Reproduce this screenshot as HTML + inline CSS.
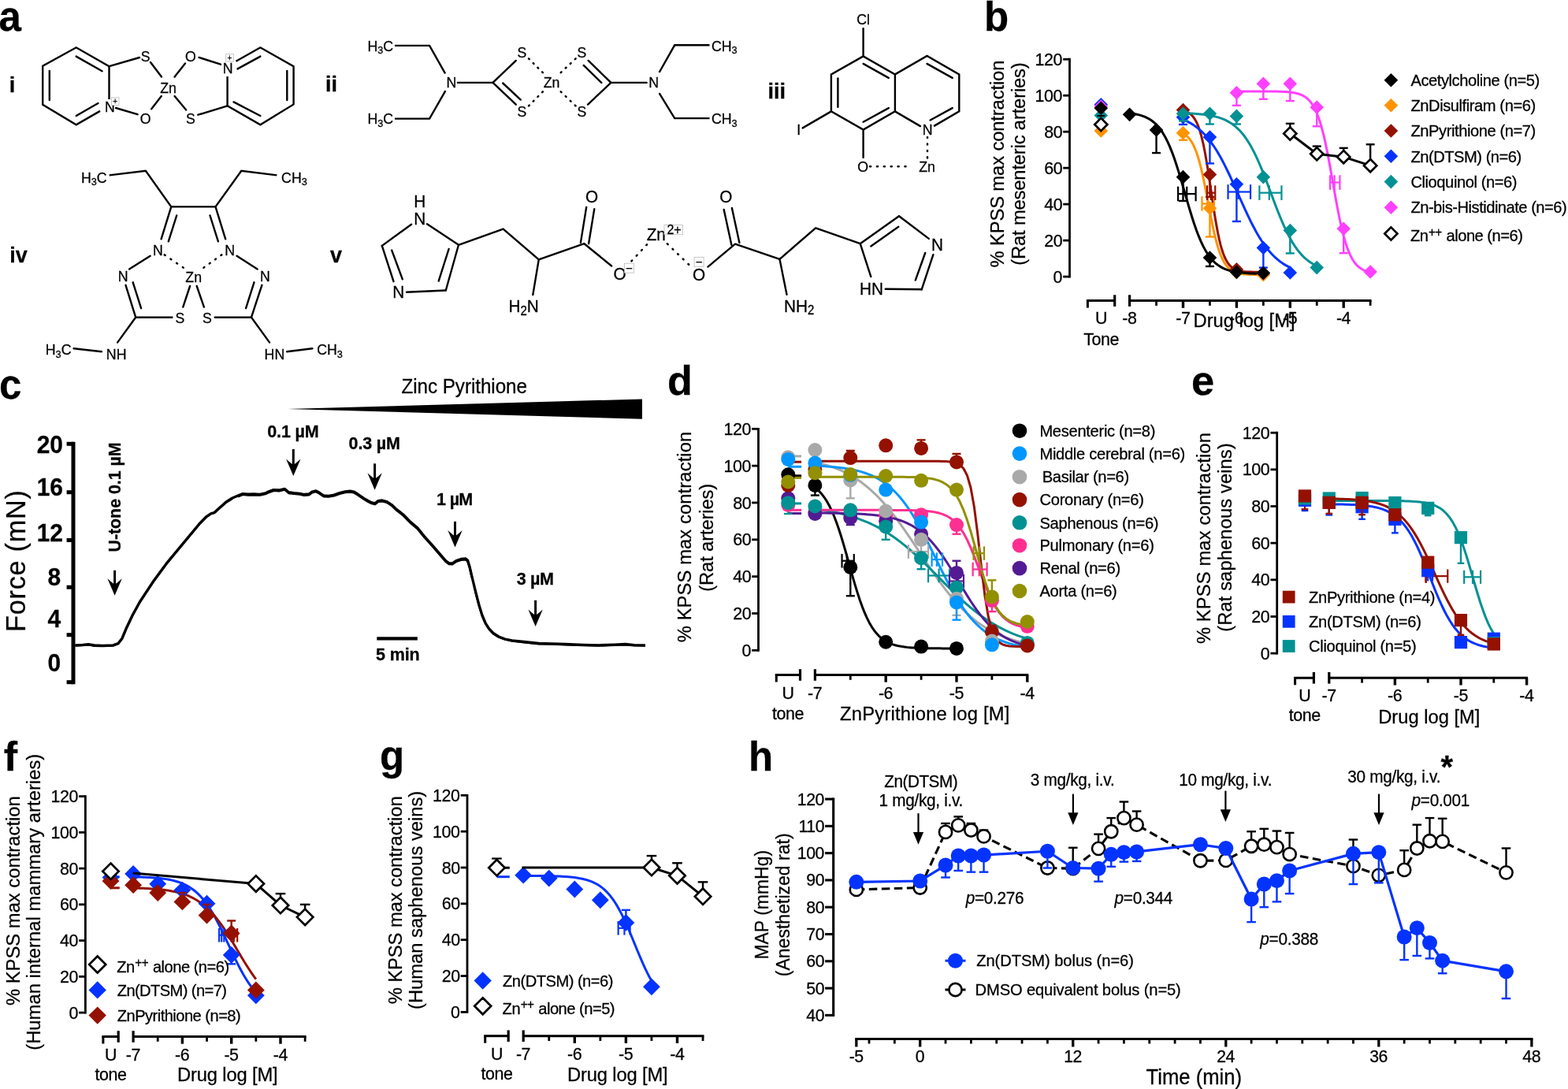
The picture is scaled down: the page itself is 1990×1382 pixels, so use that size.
<!DOCTYPE html>
<html lang="en"><head><meta charset="utf-8"><title>Figure</title>
<style>html,body{margin:0;padding:0;background:#fff}svg{display:block}text{font-family:'Liberation Sans', sans-serif;fill:#000;stroke:#000;stroke-width:0.28px}</style>
</head><body>
<svg width="1990" height="1382" viewBox="0 0 1990 1382">
<rect width="1990" height="1382" fill="#fff"/>
<g id="panel-a">
<text transform="translate(-1.5 39)" x="0" y="0" font-size="51" font-weight="bold">a</text>
<text transform="translate(15.5 116.5)" x="-3.75" y="0" font-size="27" font-weight="bold" fill="#333" stroke="none">i</text>
<path d="M138.5 126 L138.5 84.2 L96.7 60.3 L54.2 83.7 L54.2 132.9 L96.7 158.3 L127 140.9" fill="none" stroke="#000" stroke-width="2.4" stroke-linejoin="miter"/>
<line x1="62.8" y1="90" x2="62.8" y2="127" stroke="#000" stroke-width="2.4" stroke-linecap="round"/>
<line x1="96.7" y1="71.6" x2="129.6" y2="90.2" stroke="#000" stroke-width="2.4" stroke-linecap="round"/>
<line x1="96.7" y1="147" x2="124.5" y2="131" stroke="#000" stroke-width="2.4" stroke-linecap="round"/>
<text transform="translate(139.4 142.07) scale(0.96 1)" x="-6.63" y="0" font-size="18.51">N</text>
<rect x="141.45" y="123.85" width="9.5" height="9.5" fill="#fff" stroke="#bbb" stroke-width="0.8"/>
<text transform="translate(146.2 132.48) scale(0.96 1)" x="-3.1" y="0" font-size="10.4">+</text>
<line x1="138.5" y1="84.2" x2="177" y2="73" stroke="#000" stroke-width="2.4" stroke-linecap="round"/>
<text transform="translate(184.7 77.97) scale(0.96 1)" x="-6.13" y="0" font-size="18.51">S</text>
<line x1="191" y1="79" x2="205" y2="97.5" stroke="#000" stroke-width="2.4" stroke-linecap="round"/>
<text transform="translate(213.6 117.67) scale(0.96 1)" x="-10.76" y="0" font-size="18.51">Zn</text>
<text transform="translate(242 77.97) scale(0.96 1)" x="-7.25" y="0" font-size="18.51">O</text>
<line x1="235" y1="80.4" x2="221.6" y2="97.5" stroke="#000" stroke-width="2.4" stroke-linecap="round"/>
<line x1="252.5" y1="72.9" x2="280" y2="81.7" stroke="#000" stroke-width="2.4" stroke-linecap="round"/>
<text transform="translate(289 93.07) scale(0.96 1)" x="-6.63" y="0" font-size="18.51">N</text>
<rect x="286.75" y="68.65" width="9.5" height="9.5" fill="#fff" stroke="#bbb" stroke-width="0.8"/>
<text transform="translate(291.5 77.28) scale(0.96 1)" x="-3.1" y="0" font-size="10.4">+</text>
<path d="M288.6 97 L288.6 134.4 L330.4 158.3 L372.6 132.4 L372.6 84.2 L330.4 60.3 L299.5 77.8" fill="none" stroke="#000" stroke-width="2.4" stroke-linejoin="miter"/>
<line x1="301.5" y1="87.4" x2="330.4" y2="71.6" stroke="#000" stroke-width="2.4" stroke-linecap="round"/>
<line x1="364.3" y1="90" x2="364.3" y2="127" stroke="#000" stroke-width="2.4" stroke-linecap="round"/>
<line x1="296.5" y1="129.4" x2="330.4" y2="147" stroke="#000" stroke-width="2.4" stroke-linecap="round"/>
<line x1="288.6" y1="134.4" x2="251.3" y2="145.7" stroke="#000" stroke-width="2.4" stroke-linecap="round"/>
<text transform="translate(242 157.17) scale(0.96 1)" x="-6.13" y="0" font-size="18.51">S</text>
<line x1="221.6" y1="121.9" x2="236.2" y2="139.4" stroke="#000" stroke-width="2.4" stroke-linecap="round"/>
<line x1="204.8" y1="121.9" x2="192.2" y2="138.2" stroke="#000" stroke-width="2.4" stroke-linecap="round"/>
<text transform="translate(184.7 157.17) scale(0.96 1)" x="-7.25" y="0" font-size="18.51">O</text>
<line x1="147" y1="137" x2="174.6" y2="145.2" stroke="#000" stroke-width="2.4" stroke-linecap="round"/>
<text transform="translate(420.5 116)" x="-7.5" y="0" font-size="27" font-weight="bold" fill="#333" stroke="none">ii</text>
<text transform="translate(466.4 64.57) scale(0.96 1)" x="0" y="0" font-size="18.51">H<tspan dy="3.6" font-size="13.33">3</tspan><tspan dy="-3.6">C</tspan></text>
<text transform="translate(466.4 156.97) scale(0.96 1)" x="0" y="0" font-size="18.51">H<tspan dy="3.6" font-size="13.33">3</tspan><tspan dy="-3.6">C</tspan></text>
<path d="M501 57.9 L545.1 57.9 L565.1 93.3" fill="none" stroke="#000" stroke-width="2.4" stroke-linejoin="miter"/>
<path d="M501 150.6 L545.1 150.6 L565.4 115.2" fill="none" stroke="#000" stroke-width="2.4" stroke-linejoin="miter"/>
<text transform="translate(572.8 110.67) scale(0.96 1)" x="-6.63" y="0" font-size="18.51">N</text>
<line x1="580.9" y1="104.9" x2="625.5" y2="104.9" stroke="#000" stroke-width="2.4" stroke-linecap="round"/>
<line x1="625.5" y1="104.9" x2="654.8" y2="76.9" stroke="#000" stroke-width="2.4" stroke-linecap="round"/>
<line x1="625.5" y1="104.9" x2="654.8" y2="132.7" stroke="#000" stroke-width="2.4" stroke-linecap="round"/>
<line x1="638.2" y1="105.5" x2="660.8" y2="126.6" stroke="#000" stroke-width="2.4" stroke-linecap="round"/>
<text transform="translate(662.3 73.27) scale(0.96 1)" x="-6.13" y="0" font-size="18.51">S</text>
<text transform="translate(662.3 148.07) scale(0.96 1)" x="-6.13" y="0" font-size="18.51">S</text>
<path d="M671.01 74.41L671.79 75.19M676.71 80.08L677.49 80.85M682.41 85.75L683.19 86.52M688.11 91.41L688.89 92.19" fill="none" stroke="#000" stroke-width="2.5" stroke-linecap="round"/>
<path d="M671.01 134.39L671.79 133.61M676.71 128.62L677.49 127.84M682.41 122.86L683.19 122.08M688.11 117.09L688.89 116.31" fill="none" stroke="#000" stroke-width="2.5" stroke-linecap="round"/>
<text transform="translate(700 111.27) scale(0.96 1)" x="-10.76" y="0" font-size="18.51">Zn</text>
<path d="M711.7 92.18L712.5 91.42M717.73 86.51L718.53 85.76M723.77 80.84L724.57 80.09M729.8 75.18L730.6 74.42" fill="none" stroke="#000" stroke-width="2.5" stroke-linecap="round"/>
<path d="M711.7 116.32L712.5 117.08M717.74 122.09L718.53 122.85M723.77 127.85L724.56 128.61M729.8 133.62L730.6 134.38" fill="none" stroke="#000" stroke-width="2.5" stroke-linecap="round"/>
<text transform="translate(738.3 73.27) scale(0.96 1)" x="-6.13" y="0" font-size="18.51">S</text>
<text transform="translate(738.3 148.07) scale(0.96 1)" x="-6.13" y="0" font-size="18.51">S</text>
<line x1="746.7" y1="76.9" x2="775.4" y2="104.9" stroke="#000" stroke-width="2.4" stroke-linecap="round"/>
<line x1="740.7" y1="82.9" x2="763.3" y2="104.9" stroke="#000" stroke-width="2.4" stroke-linecap="round"/>
<line x1="775.4" y1="104.9" x2="746.1" y2="132.7" stroke="#000" stroke-width="2.4" stroke-linecap="round"/>
<line x1="775.4" y1="104.9" x2="820.6" y2="104.9" stroke="#000" stroke-width="2.4" stroke-linecap="round"/>
<text transform="translate(829.6 111.27) scale(0.96 1)" x="-6.63" y="0" font-size="18.51">N</text>
<path d="M836.6 92 L856.2 57.3 L900.5 57.3" fill="none" stroke="#000" stroke-width="2.4" stroke-linejoin="miter"/>
<path d="M836.6 118.2 L856.2 150.1 L900.5 150.1" fill="none" stroke="#000" stroke-width="2.4" stroke-linejoin="miter"/>
<text transform="translate(902.9 64.57) scale(0.96 1)" x="0" y="0" font-size="18.51">CH<tspan dy="3.6" font-size="13.33">3</tspan></text>
<text transform="translate(902.9 156.97) scale(0.96 1)" x="0" y="0" font-size="18.51">CH<tspan dy="3.6" font-size="13.33">3</tspan></text>
<text transform="translate(985.7 124.5)" x="-11.25" y="0" font-size="27" font-weight="bold" fill="#333" stroke="none">iii</text>
<text transform="translate(1095.6 30.77) scale(0.96 1)" x="-8.76" y="0" font-size="18.51">Cl</text>
<line x1="1095.6" y1="36.2" x2="1095.6" y2="71.4" stroke="#000" stroke-width="2.4" stroke-linecap="round"/>
<path d="M1095.6 71.4 L1054.9 94.4 L1054.9 141.4 L1095.6 164.6 L1135.9 141.4 L1135.9 94.4Z" fill="none" stroke="#000" stroke-width="2.4" stroke-linejoin="miter"/>
<line x1="1063.4" y1="99.5" x2="1063.4" y2="135.7" stroke="#000" stroke-width="2.4" stroke-linecap="round"/>
<line x1="1095.6" y1="80.9" x2="1127.8" y2="98.9" stroke="#000" stroke-width="2.4" stroke-linecap="round"/>
<line x1="1095.6" y1="154.7" x2="1127.8" y2="137.1" stroke="#000" stroke-width="2.4" stroke-linecap="round"/>
<path d="M1135.9 94.4 L1176.5 70.9 L1217.3 94.4 L1217.3 141.4 L1185.1 160.1" fill="none" stroke="#000" stroke-width="2.4" stroke-linejoin="miter"/>
<line x1="1135.9" y1="141.4" x2="1168" y2="160.1" stroke="#000" stroke-width="2.4" stroke-linecap="round"/>
<line x1="1176.5" y1="80.9" x2="1208.7" y2="98.9" stroke="#000" stroke-width="2.4" stroke-linecap="round"/>
<line x1="1180.6" y1="152.5" x2="1208.7" y2="137.1" stroke="#000" stroke-width="2.4" stroke-linecap="round"/>
<text transform="translate(1177 171.37) scale(0.96 1)" x="-6.63" y="0" font-size="18.51">N</text>
<text transform="translate(1013.7 170.97) scale(0.96 1)" x="-2.63" y="0" font-size="18.51">I</text>
<line x1="1054.9" y1="141.4" x2="1018.7" y2="162.4" stroke="#000" stroke-width="2.4" stroke-linecap="round"/>
<line x1="1095.6" y1="164.6" x2="1095.6" y2="199.9" stroke="#000" stroke-width="2.4" stroke-linecap="round"/>
<text transform="translate(1095.2 217.67) scale(0.96 1)" x="-7.25" y="0" font-size="18.51">O</text>
<path d="M1104.05 211.3L1105.15 211.3M1112.93 211.3L1114.03 211.3M1121.81 211.3L1122.91 211.3M1130.69 211.3L1131.79 211.3M1139.57 211.3L1140.67 211.3M1148.45 211.3L1149.55 211.3" fill="none" stroke="#000" stroke-width="2.5" stroke-linecap="round"/>
<text transform="translate(1176.5 217.97) scale(0.96 1)" x="-10.76" y="0" font-size="18.51">Zn</text>
<path d="M1177 173.95L1177 175.05M1177 182.42L1177 183.52M1177 190.88L1177 191.98M1177 199.35L1177 200.45" fill="none" stroke="#000" stroke-width="2.5" stroke-linecap="round"/>
<text transform="translate(23.5 332.5)" x="-11.25" y="0" font-size="27" font-weight="bold" fill="#333" stroke="none">iv</text>
<text transform="translate(102.9 231.77) scale(0.96 1)" x="0" y="0" font-size="18.51">H<tspan dy="3.6" font-size="13.33">3</tspan><tspan dy="-3.6">C</tspan></text>
<path d="M138.7 222.4 L184.9 216.9 L217.3 262.4 L273.5 262.4 L306.3 216.9 L351.4 222.4" fill="none" stroke="#000" stroke-width="2.4" stroke-linejoin="miter"/>
<text transform="translate(357.1 231.77) scale(0.96 1)" x="0" y="0" font-size="18.51">CH<tspan dy="3.6" font-size="13.33">3</tspan></text>
<line x1="217.3" y1="262.4" x2="204.6" y2="303.3" stroke="#000" stroke-width="2.4" stroke-linecap="round"/>
<line x1="224.2" y1="273.5" x2="213.8" y2="306.3" stroke="#000" stroke-width="2.4" stroke-linecap="round"/>
<line x1="273.5" y1="262.4" x2="286.2" y2="303.3" stroke="#000" stroke-width="2.4" stroke-linecap="round"/>
<line x1="266.5" y1="273.5" x2="276.9" y2="306.3" stroke="#000" stroke-width="2.4" stroke-linecap="round"/>
<text transform="translate(200.4 324.27) scale(0.96 1)" x="-6.63" y="0" font-size="18.51">N</text>
<text transform="translate(291.7 324.27) scale(0.96 1)" x="-6.63" y="0" font-size="18.51">N</text>
<line x1="190.7" y1="324.8" x2="164.1" y2="341.5" stroke="#000" stroke-width="2.4" stroke-linecap="round"/>
<line x1="300.5" y1="324.8" x2="326.6" y2="341.5" stroke="#000" stroke-width="2.4" stroke-linecap="round"/>
<text transform="translate(156 357.07) scale(0.96 1)" x="-6.63" y="0" font-size="18.51">N</text>
<text transform="translate(336.3 357.07) scale(0.96 1)" x="-6.63" y="0" font-size="18.51">N</text>
<path d="M208.75 323.39L209.65 324.01M216.45 328.62L217.35 329.24M224.15 333.86L225.05 334.48M231.85 339.09L232.75 339.71" fill="none" stroke="#000" stroke-width="2.5" stroke-linecap="round"/>
<path d="M281.35 323.38L280.45 324.02M274.01 328.61L273.12 329.25M266.68 333.85L265.79 334.49M259.35 339.08L258.45 339.72" fill="none" stroke="#000" stroke-width="2.5" stroke-linecap="round"/>
<text transform="translate(245.7 357.77) scale(0.96 1)" x="-10.76" y="0" font-size="18.51">Zn</text>
<line x1="241.1" y1="363" x2="232.3" y2="389.6" stroke="#000" stroke-width="2.4" stroke-linecap="round"/>
<line x1="249.7" y1="363" x2="258.9" y2="389.6" stroke="#000" stroke-width="2.4" stroke-linecap="round"/>
<text transform="translate(228.4 410.27) scale(0.96 1)" x="-6.13" y="0" font-size="18.51">S</text>
<text transform="translate(262.8 410.27) scale(0.96 1)" x="-6.13" y="0" font-size="18.51">S</text>
<line x1="159.5" y1="361.8" x2="172.2" y2="402.7" stroke="#000" stroke-width="2.4" stroke-linecap="round"/>
<line x1="168.7" y1="358.3" x2="179.1" y2="391.2" stroke="#000" stroke-width="2.4" stroke-linecap="round"/>
<line x1="172.2" y1="402.7" x2="218.4" y2="402.7" stroke="#000" stroke-width="2.4" stroke-linecap="round"/>
<line x1="172.2" y1="402.7" x2="149.1" y2="434.6" stroke="#000" stroke-width="2.4" stroke-linecap="round"/>
<text transform="translate(147.7 455.57) scale(0.96 1)" x="-13.38" y="0" font-size="18.51">NH</text>
<line x1="129" y1="446.2" x2="93.6" y2="442.3" stroke="#000" stroke-width="2.4" stroke-linecap="round"/>
<text transform="translate(57.8 450.27) scale(0.96 1)" x="0" y="0" font-size="18.51">H<tspan dy="3.6" font-size="13.33">3</tspan><tspan dy="-3.6">C</tspan></text>
<line x1="332.4" y1="361.8" x2="319" y2="402.7" stroke="#000" stroke-width="2.4" stroke-linecap="round"/>
<line x1="322.5" y1="358.3" x2="312.1" y2="391.2" stroke="#000" stroke-width="2.4" stroke-linecap="round"/>
<line x1="319" y1="402.7" x2="272.8" y2="402.7" stroke="#000" stroke-width="2.4" stroke-linecap="round"/>
<line x1="319" y1="402.7" x2="342.1" y2="434.6" stroke="#000" stroke-width="2.4" stroke-linecap="round"/>
<text transform="translate(348.4 455.57) scale(0.96 1)" x="-13.38" y="0" font-size="18.51">HN</text>
<line x1="364.1" y1="446.2" x2="396.4" y2="442.3" stroke="#000" stroke-width="2.4" stroke-linecap="round"/>
<text transform="translate(402.2 450.27) scale(0.96 1)" x="0" y="0" font-size="18.51">CH<tspan dy="3.6" font-size="13.33">3</tspan></text>
<text transform="translate(426.5 333)" x="-7.5" y="0" font-size="27" font-weight="bold" fill="#333" stroke="none">v</text>
<text transform="translate(532.7 262.85) scale(0.96 1)" x="-7.83" y="0" font-size="21.63">H</text>
<text transform="translate(532.7 285.45) scale(0.96 1)" x="-7.83" y="0" font-size="21.63">N</text>
<line x1="522.1" y1="284.8" x2="484.8" y2="311.9" stroke="#000" stroke-width="2.4" stroke-linecap="round"/>
<line x1="484.8" y1="311.9" x2="499.5" y2="357.2" stroke="#000" stroke-width="2.4" stroke-linecap="round"/>
<line x1="497.2" y1="317.6" x2="510.8" y2="354.4" stroke="#000" stroke-width="2.4" stroke-linecap="round"/>
<text transform="translate(505.8 378.15) scale(0.96 1)" x="-7.83" y="0" font-size="21.63">N</text>
<line x1="516" y1="370.7" x2="565.8" y2="368.5" stroke="#000" stroke-width="2.4" stroke-linecap="round"/>
<line x1="565.8" y1="368.5" x2="582" y2="310.8" stroke="#000" stroke-width="2.4" stroke-linecap="round"/>
<line x1="556.7" y1="356.7" x2="569.6" y2="316" stroke="#000" stroke-width="2.4" stroke-linecap="round"/>
<line x1="542" y1="284.3" x2="582" y2="310.8" stroke="#000" stroke-width="2.4" stroke-linecap="round"/>
<path d="M582 310.8 L638.6 290.5 L683.8 329.3 L741.5 309.2" fill="none" stroke="#000" stroke-width="2.4" stroke-linejoin="miter"/>
<line x1="683.8" y1="329.3" x2="676.3" y2="374.1" stroke="#000" stroke-width="2.4" stroke-linecap="round"/>
<text transform="translate(645.4 396.25) scale(0.96 1)" x="0" y="0" font-size="21.63">H<tspan dy="3.6" font-size="15.58">2</tspan><tspan dy="-3.6">N</tspan></text>
<line x1="736.9" y1="308.1" x2="744.2" y2="262.9" stroke="#000" stroke-width="2.4" stroke-linecap="round"/>
<line x1="747.1" y1="309.2" x2="754.3" y2="265.1" stroke="#000" stroke-width="2.4" stroke-linecap="round"/>
<text transform="translate(751.2 256.75) scale(0.96 1)" x="-8.45" y="0" font-size="21.63">O</text>
<line x1="741.5" y1="309.2" x2="776.1" y2="337.5" stroke="#000" stroke-width="2.4" stroke-linecap="round"/>
<text transform="translate(786.7 355.15) scale(0.96 1)" x="-8.45" y="0" font-size="21.63">O</text>
<rect x="792.4" y="334.2" width="12" height="12" fill="#fff" stroke="#bbb" stroke-width="0.8"/>
<text transform="translate(798.4 345.87) scale(0.96 1)" x="-4.53" y="0" font-size="15.6">−</text>
<path d="M801.42 331.3L802.18 330.5M807.72 324.57L808.48 323.77M814.02 317.83L814.78 317.03M820.32 311.1L821.08 310.3" fill="none" stroke="#000" stroke-width="2.5" stroke-linecap="round"/>
<text transform="translate(832.8 305.15) scale(0.96 1)" x="-12.68" y="0" font-size="21.63">Zn</text>
<rect x="843" y="285.3" width="23.5" height="12.4" fill="#fff" stroke="#bbb" stroke-width="0.8"/>
<text transform="translate(855.5 296.53) scale(0.96 1)" x="-9.44" y="0" font-size="16.64">2+</text>
<path d="M846.9 309.42L847.7 310.18M853.53 315.82L854.32 316.58M860.15 322.22L860.95 322.98M866.78 328.62L867.57 329.38M873.4 335.02L874.2 335.78" fill="none" stroke="#000" stroke-width="2.5" stroke-linecap="round"/>
<text transform="translate(887.1 356.25) scale(0.96 1)" x="-8.45" y="0" font-size="21.63">O</text>
<rect x="881.1" y="326.3" width="12" height="12" fill="#fff" stroke="#bbb" stroke-width="0.8"/>
<text transform="translate(887.1 337.97) scale(0.96 1)" x="-4.53" y="0" font-size="15.6">−</text>
<line x1="898.4" y1="338.6" x2="933" y2="309.7" stroke="#000" stroke-width="2.4" stroke-linecap="round"/>
<line x1="928.4" y1="310.8" x2="918.7" y2="266" stroke="#000" stroke-width="2.4" stroke-linecap="round"/>
<line x1="938.4" y1="308.1" x2="928.9" y2="264" stroke="#000" stroke-width="2.4" stroke-linecap="round"/>
<text transform="translate(921.4 257.15) scale(0.96 1)" x="-8.45" y="0" font-size="21.63">O</text>
<path d="M933 309.7 L989.5 328.9 L1035.2 289.3 L1091.7 309.2" fill="none" stroke="#000" stroke-width="2.4" stroke-linejoin="miter"/>
<line x1="989.5" y1="328.9" x2="998.5" y2="373.7" stroke="#000" stroke-width="2.4" stroke-linecap="round"/>
<text transform="translate(994.9 395.85) scale(0.96 1)" x="0" y="0" font-size="21.63">NH<tspan dy="3.6" font-size="15.58">2</tspan></text>
<line x1="1091.7" y1="309.2" x2="1141" y2="274.2" stroke="#000" stroke-width="2.4" stroke-linecap="round"/>
<line x1="1105.3" y1="312.4" x2="1140.3" y2="287.7" stroke="#000" stroke-width="2.4" stroke-linecap="round"/>
<line x1="1141" y1="274.2" x2="1178.8" y2="302.9" stroke="#000" stroke-width="2.4" stroke-linecap="round"/>
<text transform="translate(1189.4 318.25) scale(0.96 1)" x="-7.83" y="0" font-size="21.63">N</text>
<line x1="1184.4" y1="323.2" x2="1169.7" y2="367.3" stroke="#000" stroke-width="2.4" stroke-linecap="round"/>
<line x1="1174.2" y1="321" x2="1161.8" y2="355.6" stroke="#000" stroke-width="2.4" stroke-linecap="round"/>
<line x1="1169.7" y1="367.3" x2="1123.8" y2="366.7" stroke="#000" stroke-width="2.4" stroke-linecap="round"/>
<text transform="translate(1106 374.35) scale(0.96 1)" x="-15.66" y="0" font-size="21.63">HN</text>
<line x1="1091.7" y1="309.2" x2="1105.3" y2="351.1" stroke="#000" stroke-width="2.4" stroke-linecap="round"/>
</g>
<g id="panel-b">
<text transform="translate(1249 39)" x="0" y="0" font-size="51" font-weight="bold">b</text>
<line x1="1357.5" y1="73.82" x2="1357.5" y2="352.5" stroke="#000" stroke-width="2.8"/>
<line x1="1349.2" y1="351.1" x2="1357.5" y2="351.1" stroke="#000" stroke-width="2.8"/>
<text transform="translate(1348.6 358.7) scale(0.96 1)" x="-12.56" y="0" font-size="22.36" letter-spacing="-0.45">0</text>
<line x1="1349.2" y1="305.12" x2="1357.5" y2="305.12" stroke="#000" stroke-width="2.8"/>
<text transform="translate(1348.6 312.72) scale(0.96 1)" x="-24.42" y="0" font-size="22.36" letter-spacing="-0.45">20</text>
<line x1="1349.2" y1="259.14" x2="1357.5" y2="259.14" stroke="#000" stroke-width="2.8"/>
<text transform="translate(1348.6 266.74) scale(0.96 1)" x="-24.42" y="0" font-size="22.36" letter-spacing="-0.45">40</text>
<line x1="1349.2" y1="213.16" x2="1357.5" y2="213.16" stroke="#000" stroke-width="2.8"/>
<text transform="translate(1348.6 220.76) scale(0.96 1)" x="-24.42" y="0" font-size="22.36" letter-spacing="-0.45">60</text>
<line x1="1349.2" y1="167.18" x2="1357.5" y2="167.18" stroke="#000" stroke-width="2.8"/>
<text transform="translate(1348.6 174.78) scale(0.96 1)" x="-24.42" y="0" font-size="22.36" letter-spacing="-0.45">80</text>
<line x1="1349.2" y1="121.2" x2="1357.5" y2="121.2" stroke="#000" stroke-width="2.8"/>
<text transform="translate(1348.6 128.8) scale(0.96 1)" x="-36.53" y="0" font-size="22.36" letter-spacing="-0.45">100</text>
<line x1="1349.2" y1="75.22" x2="1357.5" y2="75.22" stroke="#000" stroke-width="2.8"/>
<text transform="translate(1348.6 82.82) scale(0.96 1)" x="-36.53" y="0" font-size="22.36" letter-spacing="-0.45">120</text>
<text transform="translate(1265.3 208) rotate(-90) scale(0.96 1)" x="-136.98" y="8.52" font-size="24.75" letter-spacing="-0.12">% KPSS max contraction</text>
<text transform="translate(1292.6 208) rotate(-90) scale(0.96 1)" x="-134.11" y="8.52" font-size="24.75" letter-spacing="-0.17">(Rat mesenteric arteries)</text>
<line x1="1378.9" y1="381.6" x2="1414.7" y2="381.6" stroke="#000" stroke-width="3"/>
<line x1="1380.4" y1="381.6" x2="1380.4" y2="390.6" stroke="#000" stroke-width="3"/>
<line x1="1414.7" y1="374.3" x2="1414.7" y2="388.9" stroke="#000" stroke-width="3.2"/>
<line x1="1433.6" y1="381.6" x2="1740.55" y2="381.6" stroke="#000" stroke-width="3"/>
<line x1="1433.6" y1="374.3" x2="1433.6" y2="388.9" stroke="#000" stroke-width="3.2"/>
<line x1="1467.55" y1="381.6" x2="1467.55" y2="387.9" stroke="#000" stroke-width="2.8"/>
<line x1="1501.5" y1="381.6" x2="1501.5" y2="390.8" stroke="#000" stroke-width="3.4"/>
<line x1="1535.45" y1="381.6" x2="1535.45" y2="387.9" stroke="#000" stroke-width="2.8"/>
<line x1="1569.4" y1="381.6" x2="1569.4" y2="390.8" stroke="#000" stroke-width="3.4"/>
<line x1="1603.35" y1="381.6" x2="1603.35" y2="387.9" stroke="#000" stroke-width="2.8"/>
<line x1="1637.3" y1="381.6" x2="1637.3" y2="390.8" stroke="#000" stroke-width="3.4"/>
<line x1="1671.25" y1="381.6" x2="1671.25" y2="387.9" stroke="#000" stroke-width="2.8"/>
<line x1="1705.2" y1="381.6" x2="1705.2" y2="390.8" stroke="#000" stroke-width="3.4"/>
<line x1="1739.15" y1="381.6" x2="1739.15" y2="387.9" stroke="#000" stroke-width="2.8"/>
<text transform="translate(1433.6 410.6) scale(0.96 1)" x="-9.7" y="0" font-size="22.36" letter-spacing="-0.45">-8</text>
<text transform="translate(1501.5 410.6) scale(0.96 1)" x="-9.7" y="0" font-size="22.36" letter-spacing="-0.45">-7</text>
<text transform="translate(1569.4 410.6) scale(0.96 1)" x="-9.7" y="0" font-size="22.36" letter-spacing="-0.45">-6</text>
<text transform="translate(1637.3 410.6) scale(0.96 1)" x="-9.7" y="0" font-size="22.36" letter-spacing="-0.45">-5</text>
<text transform="translate(1705.2 410.6) scale(0.96 1)" x="-9.7" y="0" font-size="22.36" letter-spacing="-0.45">-4</text>
<text transform="translate(1397.8 410.6) scale(0.96 1)" x="-8.04" y="0" font-size="22.36">U</text>
<text transform="translate(1397.8 438) scale(0.96 1)" x="-23.57" y="0" font-size="22.36" letter-spacing="-0.45">Tone</text>
<text transform="translate(1579 414.52) scale(0.96 1)" x="-67.14" y="0" font-size="24.75" letter-spacing="-0.04">Drug log [M]</text>
<path d="M1397.3 123.9L1406.1 132.7L1397.3 141.5L1388.5 132.7Z" fill="#0433FF"/>
<path d="M1397.3 126.19L1406.1 134.99L1397.3 143.79L1388.5 134.99Z" fill="#FF40FF"/>
<path d="M1397.3 137.69L1406.1 146.49L1397.3 155.29L1388.5 146.49Z" fill="#009193"/>
<path d="M1397.3 157.23L1406.1 166.03L1397.3 174.83L1388.5 166.03Z" fill="#FF9300"/>
<path d="M1397.3 128.49L1406.1 137.29L1397.3 146.09L1388.5 137.29Z" fill="#000"/>
<path d="M1397.3 149.88L1405.4 157.98L1397.3 166.08L1389.2 157.98Z" fill="#fff" stroke="#000" stroke-width="2.7" stroke-linejoin="miter"/>
<line x1="1392.3" y1="146.95" x2="1402.3" y2="146.95" stroke="#000" stroke-width="2"/>
<path d="M1501.5 169.51 L1503.2 170.48 L1504.89 171.65 L1506.59 173.05 L1508.29 174.72 L1509.99 176.71 L1511.68 179.07 L1513.38 181.85 L1515.08 185.12 L1516.78 188.92 L1518.47 193.32 L1520.17 198.35 L1521.87 204.04 L1523.57 210.41 L1525.26 217.44 L1526.96 225.09 L1528.66 233.26 L1530.36 241.86 L1532.06 250.73 L1533.75 259.72 L1535.45 268.65 L1537.15 277.37 L1538.85 285.71 L1540.54 293.56 L1542.24 300.81 L1543.94 307.42 L1545.63 313.36 L1547.33 318.63 L1549.03 323.25 L1550.73 327.26 L1552.42 330.71 L1554.12 333.66 L1555.82 336.17 L1557.52 338.28 L1559.21 340.07 L1560.91 341.56 L1562.61 342.8 L1564.31 343.84 L1566.01 344.7 L1567.7 345.42 L1569.4 346.01 L1571.1 346.5 L1572.8 346.9 L1574.49 347.24 L1576.19 347.51 L1577.89 347.74 L1579.59 347.93 L1581.28 348.08 L1582.98 348.21 L1584.68 348.32 L1586.38 348.4 L1588.07 348.47 L1589.77 348.53 L1591.47 348.58 L1593.16 348.62 L1594.86 348.65 L1596.56 348.68 L1598.26 348.7 L1599.95 348.72 L1601.65 348.73 L1603.35 348.74" fill="none" stroke="#FF9300" stroke-width="3" stroke-linejoin="round"/>
<path d="M1501.5 140.33 L1503.2 140.8 L1504.89 141.39 L1506.59 142.11 L1508.29 143.02 L1509.99 144.14 L1511.68 145.52 L1513.38 147.23 L1515.08 149.32 L1516.78 151.88 L1518.47 154.99 L1520.17 158.75 L1521.87 163.25 L1523.57 168.58 L1525.26 174.83 L1526.96 182.06 L1528.66 190.29 L1530.36 199.49 L1532.06 209.57 L1533.75 220.38 L1535.45 231.71 L1537.15 243.29 L1538.85 254.84 L1540.54 266.06 L1542.24 276.72 L1543.94 286.6 L1545.63 295.57 L1547.33 303.56 L1549.03 310.55 L1550.73 316.58 L1552.42 321.7 L1554.12 326.01 L1555.82 329.61 L1557.52 332.58 L1559.21 335.02 L1560.91 337.01 L1562.61 338.63 L1564.31 339.95 L1566.01 341.01 L1567.7 341.87 L1569.4 342.56 L1571.1 343.12 L1572.8 343.56 L1574.49 343.92 L1576.19 344.21 L1577.89 344.44 L1579.59 344.62 L1581.28 344.77 L1582.98 344.88 L1584.68 344.98 L1586.38 345.05 L1588.07 345.11 L1589.77 345.16 L1591.47 345.2 L1593.16 345.23 L1594.86 345.26 L1596.56 345.27 L1598.26 345.29 L1599.95 345.3 L1601.65 345.31 L1603.35 345.32" fill="none" stroke="#941100" stroke-width="3" stroke-linejoin="round"/>
<path d="M1501.5 151.7 L1503.76 152.65 L1506.03 153.69 L1508.29 154.83 L1510.55 156.06 L1512.82 157.4 L1515.08 158.86 L1517.34 160.45 L1519.61 162.16 L1521.87 164.02 L1524.13 166.02 L1526.4 168.18 L1528.66 170.51 L1530.92 173 L1533.19 175.67 L1535.45 178.52 L1537.71 181.56 L1539.98 184.79 L1542.24 188.21 L1544.5 191.82 L1546.77 195.62 L1549.03 199.61 L1551.29 203.77 L1553.56 208.1 L1555.82 212.59 L1558.08 217.22 L1560.35 221.98 L1562.61 226.85 L1564.87 231.81 L1567.14 236.84 L1569.4 241.91 L1571.66 247.01 L1573.93 252.1 L1576.19 257.16 L1578.45 262.18 L1580.72 267.12 L1582.98 271.97 L1585.24 276.71 L1587.51 281.31 L1589.77 285.77 L1592.03 290.07 L1594.3 294.2 L1596.56 298.14 L1598.82 301.9 L1601.09 305.48 L1603.35 308.86 L1605.61 312.05 L1607.88 315.05 L1610.14 317.87 L1612.4 320.5 L1614.67 322.96 L1616.93 325.25 L1619.19 327.38 L1621.46 329.36 L1623.72 331.18 L1625.98 332.87 L1628.25 334.43 L1630.51 335.86 L1632.77 337.19 L1635.04 338.4 L1637.3 339.51" fill="none" stroke="#0433FF" stroke-width="3" stroke-linejoin="round"/>
<path d="M1501.5 143.62 L1504.33 143.72 L1507.16 143.82 L1509.99 143.95 L1512.82 144.09 L1515.65 144.26 L1518.47 144.46 L1521.3 144.68 L1524.13 144.94 L1526.96 145.24 L1529.79 145.59 L1532.62 146 L1535.45 146.46 L1538.28 147 L1541.11 147.62 L1543.94 148.33 L1546.77 149.16 L1549.6 150.1 L1552.42 151.19 L1555.25 152.44 L1558.08 153.86 L1560.91 155.49 L1563.74 157.35 L1566.57 159.46 L1569.4 161.85 L1572.23 164.55 L1575.06 167.58 L1577.89 170.97 L1580.72 174.75 L1583.55 178.94 L1586.38 183.55 L1589.2 188.59 L1592.03 194.06 L1594.86 199.96 L1597.69 206.25 L1600.52 212.9 L1603.35 219.87 L1606.18 227.1 L1609.01 234.52 L1611.84 242.05 L1614.67 249.61 L1617.5 257.12 L1620.33 264.49 L1623.15 271.65 L1625.98 278.54 L1628.81 285.1 L1631.64 291.28 L1634.47 297.05 L1637.3 302.41 L1640.13 307.33 L1642.96 311.82 L1645.79 315.89 L1648.62 319.56 L1651.45 322.85 L1654.28 325.78 L1657.1 328.39 L1659.93 330.7 L1662.76 332.74 L1665.59 334.53 L1668.42 336.1 L1671.25 337.47" fill="none" stroke="#009193" stroke-width="3" stroke-linejoin="round"/>
<path d="M1569.4 115.91 L1572.23 115.91 L1575.06 115.91 L1577.89 115.92 L1580.72 115.92 L1583.55 115.92 L1586.38 115.92 L1589.2 115.92 L1592.03 115.93 L1594.86 115.93 L1597.69 115.93 L1600.52 115.94 L1603.35 115.95 L1606.18 115.96 L1609.01 115.98 L1611.84 116 L1614.67 116.03 L1617.5 116.07 L1620.33 116.12 L1623.15 116.19 L1625.98 116.28 L1628.81 116.39 L1631.64 116.55 L1634.47 116.75 L1637.3 117.02 L1640.13 117.37 L1642.96 117.83 L1645.79 118.44 L1648.62 119.24 L1651.45 120.29 L1654.28 121.65 L1657.1 123.44 L1659.93 125.75 L1662.76 128.73 L1665.59 132.55 L1668.42 137.39 L1671.25 143.46 L1674.08 150.96 L1676.91 160.06 L1679.74 170.86 L1682.57 183.36 L1685.4 197.39 L1688.22 212.62 L1691.05 228.56 L1693.88 244.62 L1696.71 260.2 L1699.54 274.76 L1702.37 287.9 L1705.2 299.39 L1708.03 309.17 L1710.86 317.29 L1713.69 323.91 L1716.52 329.22 L1719.35 333.42 L1722.17 336.71 L1725 339.27 L1727.83 341.25 L1730.66 342.77 L1733.49 343.94 L1736.32 344.83 L1739.15 345.51" fill="none" stroke="#FF40FF" stroke-width="3" stroke-linejoin="round"/>
<path d="M1433.6 143.64 L1436.43 144.01 L1439.26 144.45 L1442.09 144.99 L1444.92 145.63 L1447.75 146.4 L1450.58 147.33 L1453.4 148.45 L1456.23 149.78 L1459.06 151.37 L1461.89 153.27 L1464.72 155.51 L1467.55 158.17 L1470.38 161.29 L1473.21 164.93 L1476.04 169.16 L1478.87 174.02 L1481.7 179.58 L1484.53 185.84 L1487.35 192.84 L1490.18 200.55 L1493.01 208.91 L1495.84 217.85 L1498.67 227.26 L1501.5 236.97 L1504.33 246.82 L1507.16 256.64 L1509.99 266.24 L1512.82 275.47 L1515.65 284.19 L1518.47 292.29 L1521.3 299.7 L1524.13 306.39 L1526.96 312.36 L1529.79 317.62 L1532.62 322.22 L1535.45 326.2 L1538.28 329.61 L1541.11 332.53 L1543.94 335.01 L1546.77 337.1 L1549.6 338.87 L1552.42 340.35 L1555.25 341.58 L1558.08 342.62 L1560.91 343.48 L1563.74 344.19 L1566.57 344.79 L1569.4 345.28 L1572.23 345.69 L1575.06 346.03 L1577.89 346.31 L1580.72 346.55 L1583.55 346.74 L1586.38 346.9 L1589.2 347.03 L1592.03 347.14 L1594.86 347.23 L1597.69 347.3 L1600.52 347.36 L1603.35 347.41" fill="none" stroke="#000" stroke-width="3" stroke-linejoin="round"/>
<path d="M1637.3 169.48 L1671.25 195.23 L1705.2 199.14 L1739.15 210.17" fill="none" stroke="#000" stroke-width="3" stroke-linejoin="round"/>
<line x1="1525.47" y1="258.45" x2="1540.88" y2="258.45" stroke="#FF9300" stroke-width="2.2"/>
<line x1="1525.47" y1="249.15" x2="1525.47" y2="267.75" stroke="#FF9300" stroke-width="2.2"/>
<line x1="1540.88" y1="249.15" x2="1540.88" y2="267.75" stroke="#FF9300" stroke-width="2.2"/>
<line x1="1532.73" y1="249.15" x2="1532.73" y2="267.75" stroke="#FF9300" stroke-width="2.2"/>
<line x1="1532.06" y1="244.66" x2="1542.24" y2="244.66" stroke="#941100" stroke-width="2.2"/>
<line x1="1532.06" y1="235.36" x2="1532.06" y2="253.96" stroke="#941100" stroke-width="2.2"/>
<line x1="1542.24" y1="235.36" x2="1542.24" y2="253.96" stroke="#941100" stroke-width="2.2"/>
<line x1="1536.81" y1="235.36" x2="1536.81" y2="253.96" stroke="#941100" stroke-width="2.2"/>
<line x1="1558.54" y1="243.51" x2="1587.05" y2="243.51" stroke="#0433FF" stroke-width="2.2"/>
<line x1="1558.54" y1="234.21" x2="1558.54" y2="252.81" stroke="#0433FF" stroke-width="2.2"/>
<line x1="1587.05" y1="234.21" x2="1587.05" y2="252.81" stroke="#0433FF" stroke-width="2.2"/>
<line x1="1571.44" y1="234.21" x2="1571.44" y2="252.81" stroke="#0433FF" stroke-width="2.2"/>
<line x1="1598.39" y1="244.66" x2="1626.44" y2="244.66" stroke="#009193" stroke-width="2.2"/>
<line x1="1598.39" y1="235.36" x2="1598.39" y2="253.96" stroke="#009193" stroke-width="2.2"/>
<line x1="1626.44" y1="235.36" x2="1626.44" y2="253.96" stroke="#009193" stroke-width="2.2"/>
<line x1="1610.82" y1="235.36" x2="1610.82" y2="253.96" stroke="#009193" stroke-width="2.2"/>
<line x1="1688.02" y1="231.55" x2="1700.45" y2="231.55" stroke="#FF40FF" stroke-width="2.2"/>
<line x1="1688.02" y1="222.25" x2="1688.02" y2="240.85" stroke="#FF40FF" stroke-width="2.2"/>
<line x1="1700.45" y1="222.25" x2="1700.45" y2="240.85" stroke="#FF40FF" stroke-width="2.2"/>
<line x1="1693.66" y1="222.25" x2="1693.66" y2="240.85" stroke="#FF40FF" stroke-width="2.2"/>
<line x1="1495.12" y1="246.04" x2="1517.59" y2="246.04" stroke="#000" stroke-width="2.2"/>
<line x1="1495.12" y1="236.74" x2="1495.12" y2="255.34" stroke="#000" stroke-width="2.2"/>
<line x1="1517.59" y1="236.74" x2="1517.59" y2="255.34" stroke="#000" stroke-width="2.2"/>
<line x1="1506.25" y1="236.74" x2="1506.25" y2="255.34" stroke="#000" stroke-width="2.2"/>
<line x1="1501.5" y1="168.79" x2="1501.5" y2="177.76" stroke="#FF9300" stroke-width="2.4"/>
<line x1="1496" y1="177.76" x2="1507" y2="177.76" stroke="#FF9300" stroke-width="2.4"/>
<line x1="1535.45" y1="264.2" x2="1535.45" y2="300.52" stroke="#FF9300" stroke-width="2.4"/>
<line x1="1529.95" y1="300.52" x2="1540.95" y2="300.52" stroke="#FF9300" stroke-width="2.4"/>
<path d="M1501.5 159.99L1510.3 168.79L1501.5 177.59L1492.7 168.79Z" fill="#FF9300"/>
<path d="M1535.45 255.4L1544.25 264.2L1535.45 273L1526.65 264.2Z" fill="#FF9300"/>
<path d="M1569.4 336.55L1578.2 345.35L1569.4 354.15L1560.6 345.35Z" fill="#FF9300"/>
<path d="M1603.35 340L1612.15 348.8L1603.35 357.6L1594.55 348.8Z" fill="#FF9300"/>
<line x1="1535.45" y1="221.44" x2="1535.45" y2="249.94" stroke="#941100" stroke-width="2.4"/>
<line x1="1529.95" y1="249.94" x2="1540.95" y2="249.94" stroke="#941100" stroke-width="2.4"/>
<path d="M1501.5 130.79L1510.3 139.59L1501.5 148.39L1492.7 139.59Z" fill="#941100"/>
<path d="M1535.45 212.64L1544.25 221.44L1535.45 230.24L1526.65 221.44Z" fill="#941100"/>
<path d="M1569.4 333.1L1578.2 341.9L1569.4 350.7L1560.6 341.9Z" fill="#941100"/>
<path d="M1603.35 337.7L1612.15 346.5L1603.35 355.3L1594.55 346.5Z" fill="#941100"/>
<line x1="1501.5" y1="148.79" x2="1501.5" y2="157.98" stroke="#0433FF" stroke-width="2.4"/>
<line x1="1496" y1="157.98" x2="1507" y2="157.98" stroke="#0433FF" stroke-width="2.4"/>
<line x1="1535.45" y1="174.08" x2="1535.45" y2="207.41" stroke="#0433FF" stroke-width="2.4"/>
<line x1="1529.95" y1="207.41" x2="1540.95" y2="207.41" stroke="#0433FF" stroke-width="2.4"/>
<line x1="1569.4" y1="233.85" x2="1569.4" y2="280.98" stroke="#0433FF" stroke-width="2.4"/>
<line x1="1563.9" y1="280.98" x2="1574.9" y2="280.98" stroke="#0433FF" stroke-width="2.4"/>
<line x1="1603.35" y1="314.55" x2="1603.35" y2="339.61" stroke="#0433FF" stroke-width="2.4"/>
<line x1="1597.85" y1="339.61" x2="1608.85" y2="339.61" stroke="#0433FF" stroke-width="2.4"/>
<path d="M1501.5 139.99L1510.3 148.79L1501.5 157.59L1492.7 148.79Z" fill="#0433FF"/>
<path d="M1535.45 165.28L1544.25 174.08L1535.45 182.88L1526.65 174.08Z" fill="#0433FF"/>
<path d="M1569.4 225.05L1578.2 233.85L1569.4 242.65L1560.6 233.85Z" fill="#0433FF"/>
<path d="M1603.35 305.75L1612.15 314.55L1603.35 323.35L1594.55 314.55Z" fill="#0433FF"/>
<path d="M1637.3 337.24L1646.1 346.04L1637.3 354.84L1628.5 346.04Z" fill="#0433FF"/>
<line x1="1501.5" y1="144.19" x2="1501.5" y2="153.39" stroke="#009193" stroke-width="2.4"/>
<line x1="1496" y1="153.39" x2="1507" y2="153.39" stroke="#009193" stroke-width="2.4"/>
<line x1="1535.45" y1="144.19" x2="1535.45" y2="157.52" stroke="#009193" stroke-width="2.4"/>
<line x1="1529.95" y1="157.52" x2="1540.95" y2="157.52" stroke="#009193" stroke-width="2.4"/>
<line x1="1569.4" y1="147.41" x2="1569.4" y2="157.52" stroke="#009193" stroke-width="2.4"/>
<line x1="1563.9" y1="157.52" x2="1574.9" y2="157.52" stroke="#009193" stroke-width="2.4"/>
<line x1="1637.3" y1="292.48" x2="1637.3" y2="321.44" stroke="#009193" stroke-width="2.4"/>
<line x1="1631.8" y1="321.44" x2="1642.8" y2="321.44" stroke="#009193" stroke-width="2.4"/>
<path d="M1501.5 135.39L1510.3 144.19L1501.5 152.99L1492.7 144.19Z" fill="#009193"/>
<path d="M1535.45 135.39L1544.25 144.19L1535.45 152.99L1526.65 144.19Z" fill="#009193"/>
<path d="M1569.4 138.61L1578.2 147.41L1569.4 156.21L1560.6 147.41Z" fill="#009193"/>
<path d="M1603.35 215.86L1612.15 224.66L1603.35 233.46L1594.55 224.66Z" fill="#009193"/>
<path d="M1637.3 283.68L1646.1 292.48L1637.3 301.28L1628.5 292.48Z" fill="#009193"/>
<path d="M1671.25 330.81L1680.05 339.61L1671.25 348.41L1662.45 339.61Z" fill="#009193"/>
<line x1="1569.4" y1="117.75" x2="1569.4" y2="133.84" stroke="#FF40FF" stroke-width="2.4"/>
<line x1="1563.9" y1="133.84" x2="1574.9" y2="133.84" stroke="#FF40FF" stroke-width="2.4"/>
<line x1="1603.35" y1="106.26" x2="1603.35" y2="125.8" stroke="#FF40FF" stroke-width="2.4"/>
<line x1="1597.85" y1="125.8" x2="1608.85" y2="125.8" stroke="#FF40FF" stroke-width="2.4"/>
<line x1="1637.3" y1="106.26" x2="1637.3" y2="128.1" stroke="#FF40FF" stroke-width="2.4"/>
<line x1="1631.8" y1="128.1" x2="1642.8" y2="128.1" stroke="#FF40FF" stroke-width="2.4"/>
<line x1="1671.25" y1="136.14" x2="1671.25" y2="160.28" stroke="#FF40FF" stroke-width="2.4"/>
<line x1="1665.75" y1="160.28" x2="1676.75" y2="160.28" stroke="#FF40FF" stroke-width="2.4"/>
<line x1="1705.2" y1="290.18" x2="1705.2" y2="321.21" stroke="#FF40FF" stroke-width="2.4"/>
<line x1="1699.7" y1="321.21" x2="1710.7" y2="321.21" stroke="#FF40FF" stroke-width="2.4"/>
<path d="M1569.4 108.95L1578.2 117.75L1569.4 126.55L1560.6 117.75Z" fill="#FF40FF"/>
<path d="M1603.35 97.46L1612.15 106.26L1603.35 115.06L1594.55 106.26Z" fill="#FF40FF"/>
<path d="M1637.3 97.46L1646.1 106.26L1637.3 115.06L1628.5 106.26Z" fill="#FF40FF"/>
<path d="M1671.25 127.34L1680.05 136.14L1671.25 144.94L1662.45 136.14Z" fill="#FF40FF"/>
<path d="M1705.2 281.38L1714 290.18L1705.2 298.98L1696.4 290.18Z" fill="#FF40FF"/>
<path d="M1739.15 336.21L1747.95 345.01L1739.15 353.81L1730.35 345.01Z" fill="#FF40FF"/>
<line x1="1637.3" y1="169.48" x2="1637.3" y2="156.83" stroke="#000" stroke-width="2.4"/>
<line x1="1631.8" y1="156.83" x2="1642.8" y2="156.83" stroke="#000" stroke-width="2.4"/>
<line x1="1671.25" y1="195.23" x2="1671.25" y2="185.57" stroke="#000" stroke-width="2.4"/>
<line x1="1665.75" y1="185.57" x2="1676.75" y2="185.57" stroke="#000" stroke-width="2.4"/>
<line x1="1705.2" y1="199.14" x2="1705.2" y2="187.87" stroke="#000" stroke-width="2.4"/>
<line x1="1699.7" y1="187.87" x2="1710.7" y2="187.87" stroke="#000" stroke-width="2.4"/>
<line x1="1739.15" y1="210.17" x2="1739.15" y2="183.27" stroke="#000" stroke-width="2.4"/>
<line x1="1733.65" y1="183.27" x2="1744.65" y2="183.27" stroke="#000" stroke-width="2.4"/>
<path d="M1637.3 161.38L1645.4 169.48L1637.3 177.58L1629.2 169.48Z" fill="#fff" stroke="#000" stroke-width="2.7" stroke-linejoin="miter"/>
<path d="M1671.25 187.13L1679.35 195.23L1671.25 203.33L1663.15 195.23Z" fill="#fff" stroke="#000" stroke-width="2.7" stroke-linejoin="miter"/>
<path d="M1705.2 191.04L1713.3 199.14L1705.2 207.24L1697.1 199.14Z" fill="#fff" stroke="#000" stroke-width="2.7" stroke-linejoin="miter"/>
<path d="M1739.15 202.07L1747.25 210.17L1739.15 218.27L1731.05 210.17Z" fill="#fff" stroke="#000" stroke-width="2.7" stroke-linejoin="miter"/>
<line x1="1467.55" y1="164.88" x2="1467.55" y2="194.08" stroke="#000" stroke-width="2.4"/>
<line x1="1462.05" y1="194.08" x2="1473.05" y2="194.08" stroke="#000" stroke-width="2.4"/>
<line x1="1501.5" y1="224.66" x2="1501.5" y2="255" stroke="#000" stroke-width="2.4"/>
<line x1="1496" y1="255" x2="1507" y2="255" stroke="#000" stroke-width="2.4"/>
<line x1="1535.45" y1="326.96" x2="1535.45" y2="338" stroke="#000" stroke-width="2.4"/>
<line x1="1529.95" y1="338" x2="1540.95" y2="338" stroke="#000" stroke-width="2.4"/>
<path d="M1433.6 136.54L1442.4 145.34L1433.6 154.14L1424.8 145.34Z" fill="#000"/>
<path d="M1467.55 156.08L1476.35 164.88L1467.55 173.68L1458.75 164.88Z" fill="#000"/>
<path d="M1501.5 215.86L1510.3 224.66L1501.5 233.46L1492.7 224.66Z" fill="#000"/>
<path d="M1535.45 318.16L1544.25 326.96L1535.45 335.76L1526.65 326.96Z" fill="#000"/>
<path d="M1569.4 336.55L1578.2 345.35L1569.4 354.15L1560.6 345.35Z" fill="#000"/>
<path d="M1603.35 337.7L1612.15 346.5L1603.35 355.3L1594.55 346.5Z" fill="#000"/>
<path d="M1765.4 92.9L1774.2 101.7L1765.4 110.5L1756.6 101.7Z" fill="#000"/>
<text transform="translate(1790.4 108.93) scale(0.96 1)" x="0" y="0" font-size="21.01" letter-spacing="-0.47">Acetylcholine (n=5)</text>
<path d="M1765.4 125L1774.2 133.8L1765.4 142.6L1756.6 133.8Z" fill="#FF9300"/>
<text transform="translate(1790.4 141.03) scale(0.96 1)" x="0" y="0" font-size="21.01" letter-spacing="-0.46">ZnDisulfiram (n=6)</text>
<path d="M1765.4 157.2L1774.2 166L1765.4 174.8L1756.6 166Z" fill="#941100"/>
<text transform="translate(1790.4 173.23) scale(0.96 1)" x="0" y="0" font-size="21.01" letter-spacing="-0.46">ZnPyrithione (n=7)</text>
<path d="M1765.4 189.5L1774.2 198.3L1765.4 207.1L1756.6 198.3Z" fill="#0433FF"/>
<text transform="translate(1790.4 205.53) scale(0.96 1)" x="0" y="0" font-size="21.01" letter-spacing="-0.51">Zn(DTSM) (n=6)</text>
<path d="M1765.4 221.8L1774.2 230.6L1765.4 239.4L1756.6 230.6Z" fill="#009193"/>
<text transform="translate(1790.4 237.83) scale(0.96 1)" x="0" y="0" font-size="21.01" letter-spacing="-0.46">Clioquinol (n=6)</text>
<path d="M1765.4 254.4L1774.2 263.2L1765.4 272L1756.6 263.2Z" fill="#FF40FF"/>
<text transform="translate(1790.4 270.43) scale(0.96 1)" x="0" y="0" font-size="21.01" letter-spacing="-0.53">Zn-bis-Histidinate (n=6)</text>
<path d="M1765.4 288.4L1773.5 296.5L1765.4 304.6L1757.3 296.5Z" fill="#fff" stroke="#000" stroke-width="2.7" stroke-linejoin="miter"/>
<text transform="translate(1789.9 306.33) scale(0.96 1)" x="0" y="0" font-size="21.01" letter-spacing="-0.55">Zn</text>
<text transform="translate(1813 299.8) scale(0.96 1)" x="0" y="0" font-size="15.97" letter-spacing="-0.6">++</text>
<text transform="translate(1835.6 306.33) scale(0.96 1)" x="0" y="0" font-size="21.01" letter-spacing="-0.55">alone (n=6)</text>
</g>
<g id="panel-c">
<text transform="translate(-1 505.5)" x="0" y="0" font-size="51" font-weight="bold">c</text>
<text transform="translate(589.3 498.9) scale(0.96 1)" x="-83.12" y="0" font-size="25.27" letter-spacing="-0.06">Zinc Pyrithione</text>
<path d="M365 519L815 506.4L815 531.8Z" fill="#000"/>
<line x1="93" y1="560.8" x2="93" y2="868.2" stroke="#000" stroke-width="5"/>
<line x1="84.6" y1="563.3" x2="93" y2="563.3" stroke="#000" stroke-width="5"/>
<line x1="84.6" y1="624.7" x2="93" y2="624.7" stroke="#000" stroke-width="5"/>
<line x1="84.6" y1="685.5" x2="93" y2="685.5" stroke="#000" stroke-width="5"/>
<line x1="84.6" y1="745.2" x2="93" y2="745.2" stroke="#000" stroke-width="5"/>
<line x1="84.6" y1="805.7" x2="93" y2="805.7" stroke="#000" stroke-width="5"/>
<line x1="84.6" y1="865.7" x2="93" y2="865.7" stroke="#000" stroke-width="5"/>
<text transform="translate(80 574.64) scale(0.96 1)" x="-34.69" y="0" font-size="31.2" font-weight="bold">20</text>
<text transform="translate(80 628.54) scale(0.96 1)" x="-34.69" y="0" font-size="31.2" font-weight="bold">16</text>
<text transform="translate(80 686.54) scale(0.96 1)" x="-34.69" y="0" font-size="31.2" font-weight="bold">12</text>
<text transform="translate(77.3 743.14) scale(0.96 1)" x="-17.47" y="0" font-size="31.2" font-weight="bold">8</text>
<text transform="translate(77.3 796.44) scale(0.96 1)" x="-17.47" y="0" font-size="31.2" font-weight="bold">4</text>
<text transform="translate(77.3 852.14) scale(0.96 1)" x="-17.47" y="0" font-size="31.2" font-weight="bold">0</text>
<text transform="translate(19.4 712) rotate(-90) scale(0.96 1)" x="-93.75" y="12.28" font-size="35.67" letter-spacing="0.79">Force (mN)</text>
<path d="M95.5 818.8 L105 818.4 L112 817.6 L120 819 L130 819.4 L143.5 818.8 L150 816.5 L155 810 L160.4 797 L168 781 L177.3 764 L194 738.6 L211 715.4 L232 690 L253 664.7 L262 655.5 L268 651.5 L272 650.5 L278 645 L287 637 L295 632 L302 629 L308 626.6 L315 627.2 L322 627 L330 627.3 L337.7 625.5 L340.5 624 L347.2 621.6 L354 622 L361.4 620.4 L366.5 624.7 L373 625.6 L380.7 626.3 L386 627.5 L392 627 L396 624 L401 622.9 L405 625 L411 629 L417 629.3 L424 628 L431 625.5 L438 623.8 L444.5 623.2 L449 624 L454 627 L461.7 632.3 L467 635.5 L471.8 637.9 L475.9 638.9 L480 635.6 L485 635 L491 636.5 L497 640.5 L502.2 645.5 L512.4 653.6 L520 661.5 L530 670 L538 680 L548.8 692 L557 701.5 L565.6 711.5 L570 714.8 L574 715 L579 711.5 L585 709.5 L591 709 L593.5 711 L596 719 L599 732 L603.6 751 L608 768 L612 781 L616 790.5 L620.5 797.7 L626 803.5 L633 808 L641 811 L650 812.8 L665 814.5 L683.8 816.5 L700 816.8 L717.6 817.5 L740 818.4 L759.8 818.8 L780 818.2 L793.6 817.5 L805 818.6 L819 818.8" fill="none" stroke="#000" stroke-width="3.3" stroke-linejoin="round"/>
<path d="M302 630 L308 627.6 L315 628.2 L322 628 L330 628.3 L337.7 626.5 L340.5 625 L347.2 622.6 L354 623 L361.4 621.4 L366.5 625.7 L373 626.6 L380.7 627.3 L386 628.5 L392 628 L396 625 L401 623.9 L405 626 L411 630 L417 630.3 L424 629 L431 626.5 L438 624.8 L444.5 624.2 L449 625 L454 628 L461.7 633.3 L467 636.5 L471.8 638.9 L475.9 639.9 L480 636.6 L485 636 L491 637.5 L497 641.5 L502.2 646.5 L512.4 654.6 L520 662.5 L530 671 L538 681 L548.8 693 L557 702.5 L565.6 712.5 L570 715.8 L574 716 L579 712.5 L585 710.5 L591 710 L593.5 712 L596 720 L599 733" fill="none" stroke="#000" stroke-width="3" stroke-linejoin="round"/>
<path d="M95.5 819.4 L105 819 L112 818.2 L120 819.6 L130 820 L143.5 819.4 L150 817.1 L155 810.6 L160.4 797.6 L168 781.6 L177.3 764.6 L194 739.2 L211 716 L232 690.6 L253 665.3 L262 656.1 L268 652.1 L272 651.1 L278 645.6 L287 637.6 L295 632.6" fill="none" stroke="#000" stroke-width="2.6" stroke-linejoin="round"/>
<path d="M603.6 751.6 L608 768.6 L612 781.6 L616 791.1 L620.5 798.3 L626 804.1 L633 808.6 L641 811.6 L650 813.4 L665 815.1 L683.8 817.1 L700 817.4 L717.6 818.1 L740 819 L759.8 819.4 L780 818.8 L793.6 818.1 L805 819.2 L819 819.4" fill="none" stroke="#000" stroke-width="2.6" stroke-linejoin="round"/>
<text transform="translate(145.6 631) rotate(-90) scale(0.96 1)" x="-72.4" y="7.66" font-size="22.26" font-weight="bold" letter-spacing="-0.02">U-tone 0.1 µM</text>
<line x1="145.6" y1="723.8" x2="145.6" y2="743.6" stroke="#000" stroke-width="3"/>
<path d="M145.6 755.8L136.4 734.3Q142.38 739.77 145.6 741.6Q148.82 739.77 154.8 734.3Z" fill="#000"/>
<line x1="372.3" y1="570" x2="372.3" y2="591.8" stroke="#000" stroke-width="3"/>
<path d="M372.3 604L363.1 582.5Q369.08 587.98 372.3 589.8Q375.52 587.98 381.5 582.5Z" fill="#000"/>
<text transform="translate(372 555.03) scale(0.96 1)" x="-34.11" y="0" font-size="22.46" font-weight="bold" letter-spacing="-0.18">0.1 µM</text>
<line x1="475.6" y1="588.3" x2="475.6" y2="609.5" stroke="#000" stroke-width="3"/>
<path d="M475.6 621.7L466.4 600.2Q472.38 605.68 475.6 607.5Q478.82 605.68 484.8 600.2Z" fill="#000"/>
<text transform="translate(475.3 569.53) scale(0.96 1)" x="-34.11" y="0" font-size="22.46" font-weight="bold" letter-spacing="-0.18">0.3 µM</text>
<line x1="577.5" y1="661.8" x2="577.5" y2="682.3" stroke="#000" stroke-width="3"/>
<path d="M577.5 694.5L568.3 673Q574.28 678.48 577.5 680.3Q580.72 678.48 586.7 673Z" fill="#000"/>
<text transform="translate(577.2 640.73) scale(0.96 1)" x="-24.17" y="0" font-size="22.46" font-weight="bold" letter-spacing="-0.7">1 µM</text>
<line x1="679.6" y1="761.8" x2="679.6" y2="782.8" stroke="#000" stroke-width="3"/>
<path d="M679.6 795L670.4 773.5Q676.38 778.98 679.6 780.8Q682.82 778.98 688.8 773.5Z" fill="#000"/>
<text transform="translate(679.3 742.13) scale(0.96 1)" x="-24.64" y="0" font-size="22.46" font-weight="bold" letter-spacing="-0.38">3 µM</text>
<line x1="478.3" y1="810.4" x2="529.8" y2="810.4" stroke="#000" stroke-width="4.4"/>
<text transform="translate(504.8 838.33) scale(0.96 1)" x="-29.01" y="0" font-size="22.46" font-weight="bold" letter-spacing="-0.16">5 min</text>
</g>
<g id="panel-d">
<text transform="translate(847 501)" x="0" y="0" font-size="52" font-weight="bold">d</text>
<line x1="962.5" y1="542.9" x2="962.5" y2="826.7" stroke="#000" stroke-width="2.8"/>
<line x1="954.2" y1="825.3" x2="962.5" y2="825.3" stroke="#000" stroke-width="2.8"/>
<text transform="translate(953.6 832.9) scale(0.96 1)" x="-12.56" y="0" font-size="22.36" letter-spacing="-0.45">0</text>
<line x1="954.2" y1="778.47" x2="962.5" y2="778.47" stroke="#000" stroke-width="2.8"/>
<text transform="translate(953.6 786.06) scale(0.96 1)" x="-24.42" y="0" font-size="22.36" letter-spacing="-0.45">20</text>
<line x1="954.2" y1="731.63" x2="962.5" y2="731.63" stroke="#000" stroke-width="2.8"/>
<text transform="translate(953.6 739.23) scale(0.96 1)" x="-24.42" y="0" font-size="22.36" letter-spacing="-0.45">40</text>
<line x1="954.2" y1="684.8" x2="962.5" y2="684.8" stroke="#000" stroke-width="2.8"/>
<text transform="translate(953.6 692.39) scale(0.96 1)" x="-24.42" y="0" font-size="22.36" letter-spacing="-0.45">60</text>
<line x1="954.2" y1="637.96" x2="962.5" y2="637.96" stroke="#000" stroke-width="2.8"/>
<text transform="translate(953.6 645.56) scale(0.96 1)" x="-24.42" y="0" font-size="22.36" letter-spacing="-0.45">80</text>
<line x1="954.2" y1="591.13" x2="962.5" y2="591.13" stroke="#000" stroke-width="2.8"/>
<text transform="translate(953.6 598.73) scale(0.96 1)" x="-36.53" y="0" font-size="22.36" letter-spacing="-0.45">100</text>
<line x1="954.2" y1="544.3" x2="962.5" y2="544.3" stroke="#000" stroke-width="2.8"/>
<text transform="translate(953.6 551.89) scale(0.96 1)" x="-36.53" y="0" font-size="22.36" letter-spacing="-0.45">120</text>
<text transform="translate(868.9 681.5) rotate(-90) scale(0.96 1)" x="-139.38" y="8.52" font-size="24.75" letter-spacing="0.11">% KPSS max contraction</text>
<text transform="translate(896.2 682.2) rotate(-90) scale(0.96 1)" x="-71.35" y="8.52" font-size="24.75" letter-spacing="-0.14">(Rat arteries)</text>
<line x1="983.8" y1="856.5" x2="1015.5" y2="856.5" stroke="#000" stroke-width="3"/>
<line x1="985.3" y1="856.5" x2="985.3" y2="865.5" stroke="#000" stroke-width="3"/>
<line x1="1015.5" y1="849.2" x2="1015.5" y2="863.8" stroke="#000" stroke-width="3.2"/>
<line x1="1034.4" y1="856.5" x2="1305.2" y2="856.5" stroke="#000" stroke-width="3"/>
<line x1="1034.4" y1="849.2" x2="1034.4" y2="863.8" stroke="#000" stroke-width="3.2"/>
<line x1="1079.3" y1="856.5" x2="1079.3" y2="862.8" stroke="#000" stroke-width="2.8"/>
<line x1="1124.2" y1="856.5" x2="1124.2" y2="865.7" stroke="#000" stroke-width="3.4"/>
<line x1="1169.1" y1="856.5" x2="1169.1" y2="862.8" stroke="#000" stroke-width="2.8"/>
<line x1="1214" y1="856.5" x2="1214" y2="865.7" stroke="#000" stroke-width="3.4"/>
<line x1="1258.9" y1="856.5" x2="1258.9" y2="862.8" stroke="#000" stroke-width="2.8"/>
<line x1="1303.8" y1="856.5" x2="1303.8" y2="865.7" stroke="#000" stroke-width="3.4"/>
<text transform="translate(1034.4 887) scale(0.96 1)" x="-9.7" y="0" font-size="22.36" letter-spacing="-0.45">-7</text>
<text transform="translate(1124.2 887) scale(0.96 1)" x="-9.7" y="0" font-size="22.36" letter-spacing="-0.45">-6</text>
<text transform="translate(1214 887) scale(0.96 1)" x="-9.7" y="0" font-size="22.36" letter-spacing="-0.45">-5</text>
<text transform="translate(1303.8 887) scale(0.96 1)" x="-9.7" y="0" font-size="22.36" letter-spacing="-0.45">-4</text>
<text transform="translate(1000.3 887) scale(0.96 1)" x="-8.04" y="0" font-size="22.36">U</text>
<text transform="translate(1000.3 912.6) scale(0.96 1)" x="-21.06" y="0" font-size="22.36" letter-spacing="-0.45">tone</text>
<text transform="translate(1173.7 914.22) scale(0.96 1)" x="-112.08" y="0" font-size="24.75" letter-spacing="0.22">ZnPyrithione log [M]</text>
<line x1="1000.3" y1="578.95" x2="1017.1" y2="578.95" stroke="#A9A9A9" stroke-width="3"/>
<line x1="1000.3" y1="586.21" x2="1017.1" y2="586.21" stroke="#941100" stroke-width="3"/>
<line x1="1000.3" y1="592.3" x2="1017.1" y2="592.3" stroke="#0096FF" stroke-width="3"/>
<line x1="1000.3" y1="603.78" x2="1017.1" y2="603.78" stroke="#000" stroke-width="3"/>
<line x1="1000.3" y1="606.35" x2="1017.1" y2="606.35" stroke="#929000" stroke-width="3"/>
<line x1="1000.3" y1="638.9" x2="1017.1" y2="638.9" stroke="#009193" stroke-width="3"/>
<line x1="1000.3" y1="647.33" x2="1017.1" y2="647.33" stroke="#FF2F92" stroke-width="3"/>
<line x1="1000.3" y1="651.55" x2="1017.1" y2="651.55" stroke="#531B93" stroke-width="3"/>
<path d="M1034.4 619.04 L1037.39 621.42 L1040.39 624.25 L1043.38 627.6 L1046.37 631.55 L1049.37 636.15 L1052.36 641.47 L1055.35 647.58 L1058.35 654.49 L1061.34 662.23 L1064.33 670.77 L1067.33 680.04 L1070.32 689.93 L1073.31 700.29 L1076.31 710.94 L1079.3 721.68 L1082.29 732.29 L1085.29 742.57 L1088.28 752.35 L1091.27 761.48 L1094.27 769.86 L1097.26 777.44 L1100.25 784.19 L1103.25 790.13 L1106.24 795.31 L1109.23 799.77 L1112.23 803.59 L1115.22 806.83 L1118.21 809.57 L1121.21 811.87 L1124.2 813.79 L1127.19 815.39 L1130.19 816.72 L1133.18 817.82 L1136.17 818.73 L1139.17 819.48 L1142.16 820.1 L1145.15 820.61 L1148.15 821.03 L1151.14 821.38 L1154.13 821.66 L1157.13 821.9 L1160.12 822.09 L1163.11 822.25 L1166.11 822.37 L1169.1 822.48 L1172.09 822.57 L1175.09 822.64 L1178.08 822.69 L1181.07 822.74 L1184.07 822.78 L1187.06 822.81 L1190.05 822.84 L1193.05 822.86 L1196.04 822.88 L1199.03 822.89 L1202.03 822.9 L1205.02 822.91 L1208.01 822.92 L1211.01 822.93 L1214 822.93" fill="none" stroke="#000" stroke-width="3" stroke-linejoin="round"/>
<path d="M1034.4 586.46 L1038.89 587.5 L1043.38 588.64 L1047.87 589.91 L1052.36 591.31 L1056.85 592.85 L1061.34 594.54 L1065.83 596.41 L1070.32 598.45 L1074.81 600.68 L1079.3 603.12 L1083.79 605.79 L1088.28 608.68 L1092.77 611.82 L1097.26 615.22 L1101.75 618.89 L1106.24 622.83 L1110.73 627.05 L1115.22 631.56 L1119.71 636.35 L1124.2 641.43 L1128.69 646.77 L1133.18 652.39 L1137.67 658.24 L1142.16 664.33 L1146.65 670.61 L1151.14 677.07 L1155.63 683.66 L1160.12 690.36 L1164.61 697.12 L1169.1 703.9 L1173.59 710.67 L1178.08 717.39 L1182.57 724 L1187.06 730.49 L1191.55 736.81 L1196.04 742.94 L1200.53 748.84 L1205.02 754.5 L1209.51 759.91 L1214 765.04 L1218.49 769.89 L1222.98 774.45 L1227.47 778.73 L1231.96 782.73 L1236.45 786.45 L1240.94 789.9 L1245.43 793.09 L1249.92 796.03 L1254.41 798.74 L1258.9 801.23 L1263.39 803.5 L1267.88 805.58 L1272.37 807.48 L1276.86 809.2 L1281.35 810.77 L1285.84 812.2 L1290.33 813.49 L1294.82 814.66 L1299.31 815.72 L1303.8 816.68" fill="none" stroke="#A9A9A9" stroke-width="3" stroke-linejoin="round"/>
<path d="M1034.4 591.15 L1038.89 591.34 L1043.38 591.58 L1047.87 591.85 L1052.36 592.16 L1056.85 592.53 L1061.34 592.95 L1065.83 593.45 L1070.32 594.02 L1074.81 594.69 L1079.3 595.47 L1083.79 596.37 L1088.28 597.42 L1092.77 598.63 L1097.26 600.02 L1101.75 601.63 L1106.24 603.48 L1110.73 605.6 L1115.22 608.03 L1119.71 610.8 L1124.2 613.95 L1128.69 617.51 L1133.18 621.52 L1137.67 626.01 L1142.16 631.02 L1146.65 636.56 L1151.14 642.64 L1155.63 649.27 L1160.12 656.42 L1164.61 664.08 L1169.1 672.19 L1173.59 680.68 L1178.08 689.49 L1182.57 698.5 L1187.06 707.63 L1191.55 716.76 L1196.04 725.77 L1200.53 734.58 L1205.02 743.07 L1209.51 751.18 L1214 758.84 L1218.49 765.99 L1222.98 772.62 L1227.47 778.7 L1231.96 784.24 L1236.45 789.24 L1240.94 793.74 L1245.43 797.75 L1249.92 801.31 L1254.41 804.46 L1258.9 807.23 L1263.39 809.66 L1267.88 811.78 L1272.37 813.63 L1276.86 815.24 L1281.35 816.63 L1285.84 817.84 L1290.33 818.89 L1294.82 819.79 L1299.31 820.56 L1303.8 821.23" fill="none" stroke="#0096FF" stroke-width="3" stroke-linejoin="round"/>
<path d="M1034.4 646.14 L1038.89 646.72 L1043.38 647.35 L1047.87 648.04 L1052.36 648.8 L1056.85 649.63 L1061.34 650.54 L1065.83 651.53 L1070.32 652.6 L1074.81 653.77 L1079.3 655.05 L1083.79 656.43 L1088.28 657.93 L1092.77 659.56 L1097.26 661.31 L1101.75 663.2 L1106.24 665.24 L1110.73 667.43 L1115.22 669.77 L1119.71 672.28 L1124.2 674.95 L1128.69 677.79 L1133.18 680.8 L1137.67 683.98 L1142.16 687.33 L1146.65 690.84 L1151.14 694.51 L1155.63 698.34 L1160.12 702.31 L1164.61 706.4 L1169.1 710.61 L1173.59 714.93 L1178.08 719.32 L1182.57 723.78 L1187.06 728.28 L1191.55 732.8 L1196.04 737.33 L1200.53 741.83 L1205.02 746.28 L1209.51 750.68 L1214 754.99 L1218.49 759.2 L1222.98 763.3 L1227.47 767.27 L1231.96 771.09 L1236.45 774.77 L1240.94 778.28 L1245.43 781.63 L1249.92 784.81 L1254.41 787.82 L1258.9 790.66 L1263.39 793.33 L1267.88 795.83 L1272.37 798.18 L1276.86 800.37 L1281.35 802.4 L1285.84 804.3 L1290.33 806.05 L1294.82 807.67 L1299.31 809.17 L1303.8 810.56" fill="none" stroke="#009193" stroke-width="3" stroke-linejoin="round"/>
<path d="M1034.4 651 L1038.89 651.03 L1043.38 651.07 L1047.87 651.11 L1052.36 651.16 L1056.85 651.22 L1061.34 651.29 L1065.83 651.37 L1070.32 651.47 L1074.81 651.58 L1079.3 651.72 L1083.79 651.89 L1088.28 652.08 L1092.77 652.32 L1097.26 652.59 L1101.75 652.92 L1106.24 653.3 L1110.73 653.76 L1115.22 654.29 L1119.71 654.93 L1124.2 655.68 L1128.69 656.56 L1133.18 657.6 L1137.67 658.81 L1142.16 660.23 L1146.65 661.89 L1151.14 663.82 L1155.63 666.05 L1160.12 668.63 L1164.61 671.58 L1169.1 674.95 L1173.59 678.77 L1178.08 683.06 L1182.57 687.84 L1187.06 693.12 L1191.55 698.9 L1196.04 705.14 L1200.53 711.8 L1205.02 718.81 L1209.51 726.1 L1214 733.56 L1218.49 741.08 L1222.98 748.57 L1227.47 755.89 L1231.96 762.97 L1236.45 769.7 L1240.94 776.03 L1245.43 781.9 L1249.92 787.29 L1254.41 792.17 L1258.9 796.56 L1263.39 800.47 L1267.88 803.92 L1272.37 806.96 L1276.86 809.61 L1281.35 811.9 L1285.84 813.89 L1290.33 815.6 L1294.82 817.06 L1299.31 818.32 L1303.8 819.39" fill="none" stroke="#531B93" stroke-width="3" stroke-linejoin="round"/>
<path d="M1034.4 647.33 L1038.89 647.33 L1043.38 647.33 L1047.87 647.33 L1052.36 647.33 L1056.85 647.33 L1061.34 647.33 L1065.83 647.33 L1070.32 647.33 L1074.81 647.33 L1079.3 647.33 L1083.79 647.33 L1088.28 647.33 L1092.77 647.33 L1097.26 647.34 L1101.75 647.34 L1106.24 647.34 L1110.73 647.34 L1115.22 647.35 L1119.71 647.35 L1124.2 647.36 L1128.69 647.37 L1133.18 647.39 L1137.67 647.41 L1142.16 647.44 L1146.65 647.48 L1151.14 647.54 L1155.63 647.62 L1160.12 647.73 L1164.61 647.88 L1169.1 648.09 L1173.59 648.38 L1178.08 648.77 L1182.57 649.31 L1187.06 650.05 L1191.55 651.07 L1196.04 652.44 L1200.53 654.29 L1205.02 656.77 L1209.51 660.06 L1214 664.36 L1218.49 669.87 L1222.98 676.77 L1227.47 685.16 L1231.96 695.01 L1236.45 706.09 L1240.94 717.99 L1245.43 730.13 L1249.92 741.91 L1254.41 752.77 L1258.9 762.34 L1263.39 770.43 L1267.88 777.04 L1272.37 782.29 L1276.86 786.37 L1281.35 789.48 L1285.84 791.83 L1290.33 793.57 L1294.82 794.86 L1299.31 795.81 L1303.8 796.51" fill="none" stroke="#FF2F92" stroke-width="3" stroke-linejoin="round"/>
<path d="M1034.4 585.28 L1038.89 585.28 L1043.38 585.28 L1047.87 585.28 L1052.36 585.28 L1056.85 585.28 L1061.34 585.28 L1065.83 585.28 L1070.32 585.28 L1074.81 585.28 L1079.3 585.28 L1083.79 585.28 L1088.28 585.28 L1092.77 585.28 L1097.26 585.28 L1101.75 585.28 L1106.24 585.28 L1110.73 585.28 L1115.22 585.28 L1119.71 585.28 L1124.2 585.28 L1128.69 585.28 L1133.18 585.28 L1137.67 585.28 L1142.16 585.28 L1146.65 585.28 L1151.14 585.28 L1155.63 585.28 L1160.12 585.28 L1164.61 585.28 L1169.1 585.28 L1173.59 585.28 L1178.08 585.29 L1182.57 585.3 L1187.06 585.31 L1191.55 585.35 L1196.04 585.43 L1200.53 585.59 L1205.02 585.89 L1209.51 586.5 L1214 587.71 L1218.49 590.09 L1222.98 594.69 L1227.47 603.35 L1231.96 618.77 L1236.45 643.82 L1240.94 678.9 L1245.43 719.1 L1249.92 755.79 L1254.41 782.95 L1258.9 800.1 L1263.39 809.87 L1267.88 815.1 L1272.37 817.82 L1276.86 819.21 L1281.35 819.91 L1285.84 820.26 L1290.33 820.44 L1294.82 820.53 L1299.31 820.57 L1303.8 820.59" fill="none" stroke="#941100" stroke-width="3" stroke-linejoin="round"/>
<path d="M1034.4 605.18 L1038.89 605.18 L1043.38 605.18 L1047.87 605.18 L1052.36 605.18 L1056.85 605.18 L1061.34 605.18 L1065.83 605.18 L1070.32 605.18 L1074.81 605.18 L1079.3 605.18 L1083.79 605.18 L1088.28 605.18 L1092.77 605.18 L1097.26 605.18 L1101.75 605.19 L1106.24 605.19 L1110.73 605.19 L1115.22 605.19 L1119.71 605.2 L1124.2 605.21 L1128.69 605.22 L1133.18 605.23 L1137.67 605.26 L1142.16 605.29 L1146.65 605.33 L1151.14 605.4 L1155.63 605.49 L1160.12 605.61 L1164.61 605.79 L1169.1 606.04 L1173.59 606.4 L1178.08 606.89 L1182.57 607.59 L1187.06 608.57 L1191.55 609.93 L1196.04 611.83 L1200.53 614.43 L1205.02 617.99 L1209.51 622.79 L1214 629.13 L1218.49 637.34 L1222.98 647.64 L1227.47 660.08 L1231.96 674.46 L1236.45 690.23 L1240.94 706.56 L1245.43 722.51 L1249.92 737.22 L1254.41 750.08 L1258.9 760.81 L1263.39 769.42 L1267.88 776.12 L1272.37 781.19 L1276.86 784.98 L1281.35 787.75 L1285.84 789.77 L1290.33 791.23 L1294.82 792.28 L1299.31 793.02 L1303.8 793.55" fill="none" stroke="#929000" stroke-width="3" stroke-linejoin="round"/>
<line x1="1068.52" y1="711.73" x2="1083.79" y2="711.73" stroke="#000" stroke-width="2.2"/>
<line x1="1068.52" y1="702.93" x2="1068.52" y2="720.53" stroke="#000" stroke-width="2.2"/>
<line x1="1083.79" y1="702.93" x2="1083.79" y2="720.53" stroke="#000" stroke-width="2.2"/>
<line x1="1074.81" y1="702.93" x2="1074.81" y2="720.53" stroke="#000" stroke-width="2.2"/>
<line x1="1152.94" y1="700.02" x2="1178.08" y2="700.02" stroke="#A9A9A9" stroke-width="2.2"/>
<line x1="1152.94" y1="691.22" x2="1152.94" y2="708.82" stroke="#A9A9A9" stroke-width="2.2"/>
<line x1="1178.08" y1="691.22" x2="1178.08" y2="708.82" stroke="#A9A9A9" stroke-width="2.2"/>
<line x1="1169.1" y1="691.22" x2="1169.1" y2="708.82" stroke="#A9A9A9" stroke-width="2.2"/>
<line x1="1182.57" y1="710.09" x2="1196.04" y2="710.09" stroke="#0096FF" stroke-width="2.2"/>
<line x1="1182.57" y1="701.29" x2="1182.57" y2="718.89" stroke="#0096FF" stroke-width="2.2"/>
<line x1="1196.04" y1="701.29" x2="1196.04" y2="718.89" stroke="#0096FF" stroke-width="2.2"/>
<line x1="1188.86" y1="701.29" x2="1188.86" y2="718.89" stroke="#0096FF" stroke-width="2.2"/>
<line x1="1178.08" y1="730.46" x2="1205.02" y2="730.46" stroke="#009193" stroke-width="2.2"/>
<line x1="1178.08" y1="721.66" x2="1178.08" y2="739.26" stroke="#009193" stroke-width="2.2"/>
<line x1="1205.02" y1="721.66" x2="1205.02" y2="739.26" stroke="#009193" stroke-width="2.2"/>
<line x1="1191.55" y1="721.66" x2="1191.55" y2="739.26" stroke="#009193" stroke-width="2.2"/>
<line x1="1205.02" y1="737.49" x2="1222.98" y2="737.49" stroke="#531B93" stroke-width="2.2"/>
<line x1="1205.02" y1="728.69" x2="1205.02" y2="746.29" stroke="#531B93" stroke-width="2.2"/>
<line x1="1222.98" y1="728.69" x2="1222.98" y2="746.29" stroke="#531B93" stroke-width="2.2"/>
<line x1="1214" y1="728.69" x2="1214" y2="746.29" stroke="#531B93" stroke-width="2.2"/>
<line x1="1234.65" y1="722.5" x2="1252.61" y2="722.5" stroke="#FF2F92" stroke-width="2.2"/>
<line x1="1234.65" y1="713.7" x2="1234.65" y2="731.3" stroke="#FF2F92" stroke-width="2.2"/>
<line x1="1252.61" y1="713.7" x2="1252.61" y2="731.3" stroke="#FF2F92" stroke-width="2.2"/>
<line x1="1242.74" y1="713.7" x2="1242.74" y2="731.3" stroke="#FF2F92" stroke-width="2.2"/>
<line x1="1235.55" y1="702.13" x2="1249.02" y2="702.13" stroke="#929000" stroke-width="2.2"/>
<line x1="1235.55" y1="693.33" x2="1235.55" y2="710.93" stroke="#929000" stroke-width="2.2"/>
<line x1="1249.02" y1="693.33" x2="1249.02" y2="710.93" stroke="#929000" stroke-width="2.2"/>
<line x1="1242.74" y1="693.33" x2="1242.74" y2="710.93" stroke="#929000" stroke-width="2.2"/>
<line x1="1000.3" y1="638.2" x2="1000.3" y2="652.01" stroke="#009193" stroke-width="2.2"/>
<line x1="994.9" y1="652.01" x2="1005.7" y2="652.01" stroke="#009193" stroke-width="2.2"/>
<circle cx="1000.3" cy="580.36" r="9" fill="#A9A9A9"/>
<circle cx="1000.3" cy="640.77" r="9" fill="#FF2F92"/>
<circle cx="1000.3" cy="632.34" r="9" fill="#531B93"/>
<circle cx="1000.3" cy="638.2" r="9" fill="#009193"/>
<circle cx="1000.3" cy="615.95" r="9" fill="#941100"/>
<circle cx="1000.3" cy="582.93" r="9" fill="#0096FF"/>
<circle cx="1000.3" cy="602.37" r="9" fill="#000"/>
<circle cx="1000.3" cy="611.5" r="9" fill="#929000"/>
<line x1="1034.4" y1="649.67" x2="1034.4" y2="656.7" stroke="#FF2F92" stroke-width="2.4"/>
<line x1="1028.9" y1="656.7" x2="1039.9" y2="656.7" stroke="#FF2F92" stroke-width="2.4"/>
<line x1="1214" y1="666.06" x2="1214" y2="677.77" stroke="#FF2F92" stroke-width="2.4"/>
<line x1="1208.5" y1="677.77" x2="1219.5" y2="677.77" stroke="#FF2F92" stroke-width="2.4"/>
<line x1="1258.9" y1="762.07" x2="1258.9" y2="776.12" stroke="#FF2F92" stroke-width="2.4"/>
<line x1="1253.4" y1="776.12" x2="1264.4" y2="776.12" stroke="#FF2F92" stroke-width="2.4"/>
<circle cx="1034.4" cy="649.67" r="9" fill="#FF2F92"/>
<circle cx="1124.2" cy="654.36" r="9" fill="#FF2F92"/>
<circle cx="1169.1" cy="653.19" r="9" fill="#FF2F92"/>
<circle cx="1214" cy="666.06" r="9" fill="#FF2F92"/>
<circle cx="1258.9" cy="762.07" r="9" fill="#FF2F92"/>
<circle cx="1303.8" cy="794.86" r="9" fill="#FF2F92"/>
<line x1="1079.3" y1="657.17" x2="1079.3" y2="666.06" stroke="#531B93" stroke-width="2.4"/>
<line x1="1073.8" y1="666.06" x2="1084.8" y2="666.06" stroke="#531B93" stroke-width="2.4"/>
<line x1="1214" y1="726.95" x2="1214" y2="711.73" stroke="#531B93" stroke-width="2.4"/>
<line x1="1208.5" y1="711.73" x2="1219.5" y2="711.73" stroke="#531B93" stroke-width="2.4"/>
<circle cx="1034.4" cy="652.01" r="9" fill="#531B93"/>
<circle cx="1079.3" cy="657.17" r="9" fill="#531B93"/>
<circle cx="1124.2" cy="661.38" r="9" fill="#531B93"/>
<circle cx="1169.1" cy="677.77" r="9" fill="#531B93"/>
<circle cx="1214" cy="726.95" r="9" fill="#531B93"/>
<circle cx="1303.8" cy="818.27" r="9" fill="#531B93"/>
<line x1="1124.2" y1="668.41" x2="1124.2" y2="684.8" stroke="#009193" stroke-width="2.4"/>
<line x1="1118.7" y1="684.8" x2="1129.7" y2="684.8" stroke="#009193" stroke-width="2.4"/>
<line x1="1169.1" y1="708.21" x2="1169.1" y2="722.27" stroke="#009193" stroke-width="2.4"/>
<line x1="1163.6" y1="722.27" x2="1174.6" y2="722.27" stroke="#009193" stroke-width="2.4"/>
<circle cx="1034.4" cy="642.41" r="9" fill="#009193"/>
<circle cx="1079.3" cy="647.33" r="9" fill="#009193"/>
<circle cx="1124.2" cy="668.41" r="9" fill="#009193"/>
<circle cx="1169.1" cy="708.21" r="9" fill="#009193"/>
<circle cx="1214" cy="745.68" r="9" fill="#009193"/>
<circle cx="1303.8" cy="815.93" r="9" fill="#009193"/>
<line x1="1079.3" y1="581.06" x2="1079.3" y2="571.93" stroke="#941100" stroke-width="2.4"/>
<line x1="1073.8" y1="571.93" x2="1084.8" y2="571.93" stroke="#941100" stroke-width="2.4"/>
<line x1="1169.1" y1="568.88" x2="1169.1" y2="558.35" stroke="#941100" stroke-width="2.4"/>
<line x1="1163.6" y1="558.35" x2="1174.6" y2="558.35" stroke="#941100" stroke-width="2.4"/>
<line x1="1214" y1="586.45" x2="1214" y2="575.91" stroke="#941100" stroke-width="2.4"/>
<line x1="1208.5" y1="575.91" x2="1219.5" y2="575.91" stroke="#941100" stroke-width="2.4"/>
<line x1="1258.9" y1="801.88" x2="1258.9" y2="793.69" stroke="#941100" stroke-width="2.4"/>
<line x1="1253.4" y1="793.69" x2="1264.4" y2="793.69" stroke="#941100" stroke-width="2.4"/>
<circle cx="1034.4" cy="595.81" r="9" fill="#941100"/>
<circle cx="1079.3" cy="581.06" r="9" fill="#941100"/>
<circle cx="1124.2" cy="565.37" r="9" fill="#941100"/>
<circle cx="1169.1" cy="568.88" r="9" fill="#941100"/>
<circle cx="1214" cy="586.45" r="9" fill="#941100"/>
<circle cx="1258.9" cy="801.88" r="9" fill="#941100"/>
<circle cx="1303.8" cy="819.45" r="9" fill="#941100"/>
<line x1="1079.3" y1="609.4" x2="1079.3" y2="632.34" stroke="#A9A9A9" stroke-width="2.4"/>
<line x1="1073.8" y1="632.34" x2="1084.8" y2="632.34" stroke="#A9A9A9" stroke-width="2.4"/>
<line x1="1214" y1="759.73" x2="1214" y2="780.81" stroke="#A9A9A9" stroke-width="2.4"/>
<line x1="1208.5" y1="780.81" x2="1219.5" y2="780.81" stroke="#A9A9A9" stroke-width="2.4"/>
<circle cx="1034.4" cy="570.99" r="9" fill="#A9A9A9"/>
<circle cx="1079.3" cy="609.4" r="9" fill="#A9A9A9"/>
<circle cx="1124.2" cy="648.5" r="9" fill="#A9A9A9"/>
<circle cx="1169.1" cy="684.8" r="9" fill="#A9A9A9"/>
<circle cx="1214" cy="759.73" r="9" fill="#A9A9A9"/>
<circle cx="1258.9" cy="813.59" r="9" fill="#A9A9A9"/>
<line x1="1214" y1="764.42" x2="1214" y2="786.66" stroke="#0096FF" stroke-width="2.4"/>
<line x1="1208.5" y1="786.66" x2="1219.5" y2="786.66" stroke="#0096FF" stroke-width="2.4"/>
<circle cx="1034.4" cy="587.62" r="9" fill="#0096FF"/>
<circle cx="1079.3" cy="602.84" r="9" fill="#0096FF"/>
<circle cx="1124.2" cy="621.57" r="9" fill="#0096FF"/>
<circle cx="1169.1" cy="662.55" r="9" fill="#0096FF"/>
<circle cx="1214" cy="764.42" r="9" fill="#0096FF"/>
<circle cx="1258.9" cy="818.27" r="9" fill="#0096FF"/>
<line x1="1034.4" y1="615.95" x2="1034.4" y2="628.6" stroke="#000" stroke-width="2.4"/>
<line x1="1028.9" y1="628.6" x2="1039.9" y2="628.6" stroke="#000" stroke-width="2.4"/>
<line x1="1079.3" y1="719.92" x2="1079.3" y2="756.22" stroke="#000" stroke-width="2.4"/>
<line x1="1073.8" y1="756.22" x2="1084.8" y2="756.22" stroke="#000" stroke-width="2.4"/>
<circle cx="1034.4" cy="615.95" r="9" fill="#000"/>
<circle cx="1079.3" cy="719.92" r="9" fill="#000"/>
<circle cx="1124.2" cy="814.76" r="9" fill="#000"/>
<circle cx="1169.1" cy="820.62" r="9" fill="#000"/>
<circle cx="1214" cy="822.96" r="9" fill="#000"/>
<line x1="1258.9" y1="757.39" x2="1258.9" y2="736.32" stroke="#929000" stroke-width="2.4"/>
<line x1="1253.4" y1="736.32" x2="1264.4" y2="736.32" stroke="#929000" stroke-width="2.4"/>
<circle cx="1034.4" cy="600.26" r="9" fill="#929000"/>
<circle cx="1079.3" cy="601.9" r="9" fill="#929000"/>
<circle cx="1124.2" cy="604.01" r="9" fill="#929000"/>
<circle cx="1169.1" cy="609.86" r="9" fill="#929000"/>
<circle cx="1214" cy="621.57" r="9" fill="#929000"/>
<circle cx="1258.9" cy="757.39" r="9" fill="#929000"/>
<circle cx="1303.8" cy="789" r="9" fill="#929000"/>
<circle cx="1294" cy="546.7" r="9.3" fill="#000"/>
<text transform="translate(1319.4 553.93) scale(0.96 1)" x="0" y="0" font-size="21.01" letter-spacing="-0.33">Mesenteric (n=8)</text>
<circle cx="1294" cy="575.6" r="9.3" fill="#0096FF"/>
<text transform="translate(1319.4 582.83) scale(0.96 1)" x="0" y="0" font-size="21.01" letter-spacing="-0.32">Middle cerebral (n=6)</text>
<circle cx="1294" cy="605.2" r="9.3" fill="#A9A9A9"/>
<text transform="translate(1322.8 612.43) scale(0.96 1)" x="0" y="0" font-size="21.01" letter-spacing="-0.39">Basilar (n=6)</text>
<circle cx="1294" cy="634.1" r="9.3" fill="#941100"/>
<text transform="translate(1319.4 641.33) scale(0.96 1)" x="0" y="0" font-size="21.01" letter-spacing="-0.28">Coronary (n=6)</text>
<circle cx="1294" cy="663.3" r="9.3" fill="#009193"/>
<text transform="translate(1319.4 670.53) scale(0.96 1)" x="0" y="0" font-size="21.01" letter-spacing="-0.3">Saphenous (n=6)</text>
<circle cx="1294" cy="692.2" r="9.3" fill="#FF2F92"/>
<text transform="translate(1319.4 699.43) scale(0.96 1)" x="0" y="0" font-size="21.01" letter-spacing="-0.3">Pulmonary (n=6)</text>
<circle cx="1294" cy="721.1" r="9.3" fill="#531B93"/>
<text transform="translate(1319.4 728.33) scale(0.96 1)" x="0" y="0" font-size="21.01" letter-spacing="-0.33">Renal (n=6)</text>
<circle cx="1294" cy="750" r="9.3" fill="#929000"/>
<text transform="translate(1319.4 757.23) scale(0.96 1)" x="0" y="0" font-size="21.01" letter-spacing="-0.31">Aorta (n=6)</text>
</g>
<g id="panel-e">
<text transform="translate(1512 500.5)" x="0" y="0" font-size="52.5" font-weight="bold">e</text>
<line x1="1620.7" y1="547.8" x2="1620.7" y2="830.5" stroke="#000" stroke-width="2.8"/>
<line x1="1612.4" y1="829.1" x2="1620.7" y2="829.1" stroke="#000" stroke-width="2.8"/>
<text transform="translate(1611.8 836.7) scale(0.96 1)" x="-12.56" y="0" font-size="22.36" letter-spacing="-0.45">0</text>
<line x1="1612.4" y1="782.45" x2="1620.7" y2="782.45" stroke="#000" stroke-width="2.8"/>
<text transform="translate(1611.8 790.05) scale(0.96 1)" x="-24.42" y="0" font-size="22.36" letter-spacing="-0.45">20</text>
<line x1="1612.4" y1="735.8" x2="1620.7" y2="735.8" stroke="#000" stroke-width="2.8"/>
<text transform="translate(1611.8 743.4) scale(0.96 1)" x="-24.42" y="0" font-size="22.36" letter-spacing="-0.45">40</text>
<line x1="1612.4" y1="689.15" x2="1620.7" y2="689.15" stroke="#000" stroke-width="2.8"/>
<text transform="translate(1611.8 696.75) scale(0.96 1)" x="-24.42" y="0" font-size="22.36" letter-spacing="-0.45">60</text>
<line x1="1612.4" y1="642.5" x2="1620.7" y2="642.5" stroke="#000" stroke-width="2.8"/>
<text transform="translate(1611.8 650.1) scale(0.96 1)" x="-24.42" y="0" font-size="22.36" letter-spacing="-0.45">80</text>
<line x1="1612.4" y1="595.85" x2="1620.7" y2="595.85" stroke="#000" stroke-width="2.8"/>
<text transform="translate(1611.8 603.45) scale(0.96 1)" x="-36.53" y="0" font-size="22.36" letter-spacing="-0.45">100</text>
<line x1="1612.4" y1="549.2" x2="1620.7" y2="549.2" stroke="#000" stroke-width="2.8"/>
<text transform="translate(1611.8 556.8) scale(0.96 1)" x="-36.53" y="0" font-size="22.36" letter-spacing="-0.45">120</text>
<text transform="translate(1527.4 683.1) rotate(-90) scale(0.96 1)" x="-139.58" y="8.52" font-size="24.75" letter-spacing="0.13">% KPSS max contraction</text>
<text transform="translate(1554.4 681.9) rotate(-90) scale(0.96 1)" x="-124.9" y="8.52" font-size="24.75" letter-spacing="0.1">(Rat saphenous veins)</text>
<line x1="1642.1" y1="860.3" x2="1667.4" y2="860.3" stroke="#000" stroke-width="3"/>
<line x1="1643.6" y1="860.3" x2="1643.6" y2="869.3" stroke="#000" stroke-width="3"/>
<line x1="1667.4" y1="853" x2="1667.4" y2="867.6" stroke="#000" stroke-width="3.2"/>
<line x1="1686.8" y1="860.3" x2="1939" y2="860.3" stroke="#000" stroke-width="3"/>
<line x1="1686.8" y1="853" x2="1686.8" y2="867.6" stroke="#000" stroke-width="3.2"/>
<line x1="1728.6" y1="860.3" x2="1728.6" y2="866.6" stroke="#000" stroke-width="2.8"/>
<line x1="1770.4" y1="860.3" x2="1770.4" y2="869.5" stroke="#000" stroke-width="3.4"/>
<line x1="1812.2" y1="860.3" x2="1812.2" y2="866.6" stroke="#000" stroke-width="2.8"/>
<line x1="1854" y1="860.3" x2="1854" y2="869.5" stroke="#000" stroke-width="3.4"/>
<line x1="1895.8" y1="860.3" x2="1895.8" y2="866.6" stroke="#000" stroke-width="2.8"/>
<line x1="1937.6" y1="860.3" x2="1937.6" y2="869.5" stroke="#000" stroke-width="3.4"/>
<text transform="translate(1686.8 890) scale(0.96 1)" x="-9.7" y="0" font-size="22.36" letter-spacing="-0.45">-7</text>
<text transform="translate(1770.4 890) scale(0.96 1)" x="-9.7" y="0" font-size="22.36" letter-spacing="-0.45">-6</text>
<text transform="translate(1854 890) scale(0.96 1)" x="-9.7" y="0" font-size="22.36" letter-spacing="-0.45">-5</text>
<text transform="translate(1937.6 890) scale(0.96 1)" x="-9.7" y="0" font-size="22.36" letter-spacing="-0.45">-4</text>
<text transform="translate(1656 890) scale(0.96 1)" x="-8.04" y="0" font-size="22.36">U</text>
<text transform="translate(1656 915.2) scale(0.96 1)" x="-21.06" y="0" font-size="22.36" letter-spacing="-0.45">tone</text>
<text transform="translate(1813.8 917.72) scale(0.96 1)" x="-67.29" y="0" font-size="24.75" letter-spacing="-0.02">Drug log [M]</text>
<path d="M1686.8 639.86 L1690.28 639.9 L1693.77 639.94 L1697.25 639.99 L1700.73 640.05 L1704.22 640.12 L1707.7 640.21 L1711.18 640.32 L1714.67 640.44 L1718.15 640.6 L1721.63 640.79 L1725.12 641.02 L1728.6 641.3 L1732.08 641.63 L1735.57 642.03 L1739.05 642.52 L1742.53 643.1 L1746.02 643.81 L1749.5 644.65 L1752.98 645.67 L1756.47 646.88 L1759.95 648.33 L1763.43 650.05 L1766.92 652.09 L1770.4 654.5 L1773.88 657.33 L1777.37 660.64 L1780.85 664.48 L1784.33 668.89 L1787.82 673.92 L1791.3 679.59 L1794.78 685.92 L1798.27 692.88 L1801.75 700.43 L1805.23 708.5 L1808.72 716.96 L1812.2 725.7 L1815.68 734.55 L1819.17 743.35 L1822.65 751.96 L1826.13 760.21 L1829.62 768 L1833.1 775.23 L1836.58 781.84 L1840.07 787.8 L1843.55 793.11 L1847.03 797.79 L1850.52 801.88 L1854 805.41 L1857.48 808.44 L1860.97 811.03 L1864.45 813.23 L1867.93 815.09 L1871.42 816.65 L1874.9 817.96 L1878.38 819.06 L1881.87 819.98 L1885.35 820.74 L1888.83 821.37 L1892.32 821.9 L1895.8 822.34" fill="none" stroke="#0433FF" stroke-width="3" stroke-linejoin="round"/>
<path d="M1686.8 635.5 L1690.28 635.5 L1693.77 635.5 L1697.25 635.5 L1700.73 635.5 L1704.22 635.5 L1707.7 635.5 L1711.18 635.5 L1714.67 635.51 L1718.15 635.51 L1721.63 635.51 L1725.12 635.51 L1728.6 635.51 L1732.08 635.51 L1735.57 635.52 L1739.05 635.52 L1742.53 635.53 L1746.02 635.53 L1749.5 635.54 L1752.98 635.55 L1756.47 635.56 L1759.95 635.58 L1763.43 635.6 L1766.92 635.63 L1770.4 635.67 L1773.88 635.71 L1777.37 635.77 L1780.85 635.85 L1784.33 635.95 L1787.82 636.08 L1791.3 636.24 L1794.78 636.45 L1798.27 636.71 L1801.75 637.05 L1805.23 637.49 L1808.72 638.04 L1812.2 638.75 L1815.68 639.65 L1819.17 640.79 L1822.65 642.24 L1826.13 644.06 L1829.62 646.35 L1833.1 649.21 L1836.58 652.75 L1840.07 657.09 L1843.55 662.36 L1847.03 668.66 L1850.52 676.09 L1854 684.67 L1857.48 694.36 L1860.97 705.05 L1864.45 716.51 L1867.93 728.44 L1871.42 740.49 L1874.9 752.29 L1878.38 763.5 L1881.87 773.85 L1885.35 783.15 L1888.83 791.32 L1892.32 798.33 L1895.8 804.25" fill="none" stroke="#009193" stroke-width="3" stroke-linejoin="round"/>
<path d="M1686.8 632.83 L1690.28 632.89 L1693.77 632.97 L1697.25 633.06 L1700.73 633.16 L1704.22 633.28 L1707.7 633.43 L1711.18 633.6 L1714.67 633.79 L1718.15 634.03 L1721.63 634.3 L1725.12 634.62 L1728.6 634.99 L1732.08 635.43 L1735.57 635.95 L1739.05 636.55 L1742.53 637.26 L1746.02 638.08 L1749.5 639.04 L1752.98 640.16 L1756.47 641.45 L1759.95 642.96 L1763.43 644.7 L1766.92 646.7 L1770.4 649 L1773.88 651.63 L1777.37 654.63 L1780.85 658.03 L1784.33 661.86 L1787.82 666.14 L1791.3 670.89 L1794.78 676.13 L1798.27 681.85 L1801.75 688.04 L1805.23 694.65 L1808.72 701.65 L1812.2 708.96 L1815.68 716.51 L1819.17 724.19 L1822.65 731.92 L1826.13 739.59 L1829.62 747.09 L1833.1 754.35 L1836.58 761.28 L1840.07 767.81 L1843.55 773.9 L1847.03 779.53 L1850.52 784.67 L1854 789.33 L1857.48 793.52 L1860.97 797.26 L1864.45 800.57 L1867.93 803.49 L1871.42 806.06 L1874.9 808.3 L1878.38 810.24 L1881.87 811.93 L1885.35 813.39 L1888.83 814.65 L1892.32 815.74 L1895.8 816.67" fill="none" stroke="#941100" stroke-width="3" stroke-linejoin="round"/>
<line x1="1809.69" y1="728.8" x2="1818.05" y2="728.8" stroke="#0433FF" stroke-width="2.2"/>
<line x1="1809.69" y1="720.2" x2="1809.69" y2="737.4" stroke="#0433FF" stroke-width="2.2"/>
<line x1="1818.05" y1="720.2" x2="1818.05" y2="737.4" stroke="#0433FF" stroke-width="2.2"/>
<line x1="1812.2" y1="720.2" x2="1812.2" y2="737.4" stroke="#0433FF" stroke-width="2.2"/>
<line x1="1858.18" y1="732.3" x2="1879.08" y2="732.3" stroke="#009193" stroke-width="2.2"/>
<line x1="1858.18" y1="723.7" x2="1858.18" y2="740.9" stroke="#009193" stroke-width="2.2"/>
<line x1="1879.08" y1="723.7" x2="1879.08" y2="740.9" stroke="#009193" stroke-width="2.2"/>
<line x1="1869.05" y1="723.7" x2="1869.05" y2="740.9" stroke="#009193" stroke-width="2.2"/>
<line x1="1809.69" y1="731.13" x2="1837.28" y2="731.13" stroke="#941100" stroke-width="2.2"/>
<line x1="1809.69" y1="722.53" x2="1809.69" y2="739.74" stroke="#941100" stroke-width="2.2"/>
<line x1="1837.28" y1="722.53" x2="1837.28" y2="739.74" stroke="#941100" stroke-width="2.2"/>
<line x1="1809.69" y1="722.53" x2="1809.69" y2="739.74" stroke="#941100" stroke-width="2.2"/>
<line x1="1656" y1="640.17" x2="1656" y2="648.1" stroke="#0433FF" stroke-width="2.2"/>
<line x1="1651.7" y1="648.1" x2="1660.3" y2="648.1" stroke="#0433FF" stroke-width="2.2"/>
<line x1="1656" y1="630.84" x2="1656" y2="646.23" stroke="#941100" stroke-width="2.2"/>
<line x1="1651.7" y1="646.23" x2="1660.3" y2="646.23" stroke="#941100" stroke-width="2.2"/>
<rect x="1647.9" y="626.7" width="16.2" height="16.2" fill="#0433FF"/>
<rect x="1647.9" y="624.37" width="16.2" height="16.2" fill="#009193"/>
<rect x="1647.9" y="621.34" width="16.2" height="16.2" fill="#941100"/>
<line x1="1686.8" y1="637.84" x2="1686.8" y2="653.46" stroke="#0433FF" stroke-width="2.4"/>
<line x1="1682.5" y1="653.46" x2="1691.1" y2="653.46" stroke="#0433FF" stroke-width="2.4"/>
<line x1="1728.6" y1="643.2" x2="1728.6" y2="658.83" stroke="#0433FF" stroke-width="2.4"/>
<line x1="1724.3" y1="658.83" x2="1732.9" y2="658.83" stroke="#0433FF" stroke-width="2.4"/>
<line x1="1770.4" y1="658.83" x2="1770.4" y2="676.32" stroke="#0433FF" stroke-width="2.4"/>
<line x1="1766.1" y1="676.32" x2="1774.7" y2="676.32" stroke="#0433FF" stroke-width="2.4"/>
<rect x="1678.7" y="629.74" width="16.2" height="16.2" fill="#0433FF"/>
<rect x="1720.5" y="635.1" width="16.2" height="16.2" fill="#0433FF"/>
<rect x="1762.3" y="650.73" width="16.2" height="16.2" fill="#0433FF"/>
<rect x="1804.1" y="716.04" width="16.2" height="16.2" fill="#0433FF"/>
<rect x="1845.9" y="807" width="16.2" height="16.2" fill="#0433FF"/>
<rect x="1887.7" y="802.57" width="16.2" height="16.2" fill="#0433FF"/>
<line x1="1812.2" y1="644.83" x2="1812.2" y2="654.16" stroke="#009193" stroke-width="2.4"/>
<line x1="1807.9" y1="654.16" x2="1816.5" y2="654.16" stroke="#009193" stroke-width="2.4"/>
<line x1="1854" y1="682.15" x2="1854" y2="714.81" stroke="#009193" stroke-width="2.4"/>
<line x1="1849.7" y1="714.81" x2="1858.3" y2="714.81" stroke="#009193" stroke-width="2.4"/>
<rect x="1678.7" y="624.37" width="16.2" height="16.2" fill="#009193"/>
<rect x="1720.5" y="623.9" width="16.2" height="16.2" fill="#009193"/>
<rect x="1762.3" y="629.97" width="16.2" height="16.2" fill="#009193"/>
<rect x="1804.1" y="636.73" width="16.2" height="16.2" fill="#009193"/>
<rect x="1845.9" y="674.05" width="16.2" height="16.2" fill="#009193"/>
<rect x="1887.7" y="808.17" width="16.2" height="16.2" fill="#009193"/>
<line x1="1686.8" y1="637.84" x2="1686.8" y2="651.83" stroke="#941100" stroke-width="2.4"/>
<line x1="1682.5" y1="651.83" x2="1691.1" y2="651.83" stroke="#941100" stroke-width="2.4"/>
<line x1="1728.6" y1="637.84" x2="1728.6" y2="653.23" stroke="#941100" stroke-width="2.4"/>
<line x1="1724.3" y1="653.23" x2="1732.9" y2="653.23" stroke="#941100" stroke-width="2.4"/>
<line x1="1854" y1="787.12" x2="1854" y2="805.77" stroke="#941100" stroke-width="2.4"/>
<line x1="1849.7" y1="805.77" x2="1858.3" y2="805.77" stroke="#941100" stroke-width="2.4"/>
<rect x="1678.7" y="629.74" width="16.2" height="16.2" fill="#941100"/>
<rect x="1720.5" y="629.74" width="16.2" height="16.2" fill="#941100"/>
<rect x="1762.3" y="645.13" width="16.2" height="16.2" fill="#941100"/>
<rect x="1804.1" y="705.54" width="16.2" height="16.2" fill="#941100"/>
<rect x="1845.9" y="779.01" width="16.2" height="16.2" fill="#941100"/>
<rect x="1887.7" y="809.34" width="16.2" height="16.2" fill="#941100"/>
<rect x="1627.8" y="749.7" width="15.8" height="15.8" fill="#941100"/>
<text transform="translate(1661.1 764.83) scale(0.96 1)" x="0" y="0" font-size="21.01" letter-spacing="-0.36">ZnPyrithione (n=4)</text>
<rect x="1627.8" y="780.9" width="15.8" height="15.8" fill="#0433FF"/>
<text transform="translate(1661.1 796.03) scale(0.96 1)" x="0" y="0" font-size="21.01" letter-spacing="-0.36">Zn(DTSM) (n=6)</text>
<rect x="1627.8" y="812.1" width="15.8" height="15.8" fill="#009193"/>
<text transform="translate(1661.1 827.23) scale(0.96 1)" x="0" y="0" font-size="21.01" letter-spacing="-0.36">Clioquinol (n=5)</text>
</g>
<g id="panel-f">
<text transform="translate(4.7 978.2)" x="0" y="0" font-size="52" font-weight="bold">f</text>
<line x1="108.4" y1="1009.2" x2="108.4" y2="1286.5" stroke="#000" stroke-width="2.8"/>
<line x1="100.1" y1="1285.1" x2="108.4" y2="1285.1" stroke="#000" stroke-width="2.8"/>
<text transform="translate(99.5 1292.7) scale(0.96 1)" x="-12.56" y="0" font-size="22.36" letter-spacing="-0.45">0</text>
<line x1="100.1" y1="1239.35" x2="108.4" y2="1239.35" stroke="#000" stroke-width="2.8"/>
<text transform="translate(99.5 1246.95) scale(0.96 1)" x="-24.42" y="0" font-size="22.36" letter-spacing="-0.45">20</text>
<line x1="100.1" y1="1193.6" x2="108.4" y2="1193.6" stroke="#000" stroke-width="2.8"/>
<text transform="translate(99.5 1201.2) scale(0.96 1)" x="-24.42" y="0" font-size="22.36" letter-spacing="-0.45">40</text>
<line x1="100.1" y1="1147.85" x2="108.4" y2="1147.85" stroke="#000" stroke-width="2.8"/>
<text transform="translate(99.5 1155.45) scale(0.96 1)" x="-24.42" y="0" font-size="22.36" letter-spacing="-0.45">60</text>
<line x1="100.1" y1="1102.1" x2="108.4" y2="1102.1" stroke="#000" stroke-width="2.8"/>
<text transform="translate(99.5 1109.7) scale(0.96 1)" x="-24.42" y="0" font-size="22.36" letter-spacing="-0.45">80</text>
<line x1="100.1" y1="1056.35" x2="108.4" y2="1056.35" stroke="#000" stroke-width="2.8"/>
<text transform="translate(99.5 1063.95) scale(0.96 1)" x="-36.53" y="0" font-size="22.36" letter-spacing="-0.45">100</text>
<line x1="100.1" y1="1010.6" x2="108.4" y2="1010.6" stroke="#000" stroke-width="2.8"/>
<text transform="translate(99.5 1018.2) scale(0.96 1)" x="-36.53" y="0" font-size="22.36" letter-spacing="-0.45">120</text>
<text transform="translate(16.7 1143.1) rotate(-90) scale(0.96 1)" x="-138.44" y="8.52" font-size="24.75" letter-spacing="0.02">% KPSS max contraction</text>
<text transform="translate(42.8 1144.8) rotate(-90) scale(0.96 1)" x="-195.83" y="8.52" font-size="24.75" letter-spacing="0.04">(Human internal mammary arteries)</text>
<line x1="129.4" y1="1315.5" x2="150.2" y2="1315.5" stroke="#000" stroke-width="3"/>
<line x1="130.9" y1="1315.5" x2="130.9" y2="1324.5" stroke="#000" stroke-width="3"/>
<line x1="150.2" y1="1308.2" x2="150.2" y2="1322.8" stroke="#000" stroke-width="3.2"/>
<line x1="169.1" y1="1315.5" x2="388.55" y2="1315.5" stroke="#000" stroke-width="3"/>
<line x1="169.1" y1="1308.2" x2="169.1" y2="1322.8" stroke="#000" stroke-width="3.2"/>
<line x1="200.25" y1="1315.5" x2="200.25" y2="1321.8" stroke="#000" stroke-width="2.8"/>
<line x1="231.4" y1="1315.5" x2="231.4" y2="1324.7" stroke="#000" stroke-width="3.4"/>
<line x1="262.55" y1="1315.5" x2="262.55" y2="1321.8" stroke="#000" stroke-width="2.8"/>
<line x1="293.7" y1="1315.5" x2="293.7" y2="1324.7" stroke="#000" stroke-width="3.4"/>
<line x1="324.85" y1="1315.5" x2="324.85" y2="1321.8" stroke="#000" stroke-width="2.8"/>
<line x1="356" y1="1315.5" x2="356" y2="1324.7" stroke="#000" stroke-width="3.4"/>
<line x1="387.15" y1="1315.5" x2="387.15" y2="1321.8" stroke="#000" stroke-width="2.8"/>
<text transform="translate(169.1 1345.7) scale(0.96 1)" x="-9.7" y="0" font-size="22.36" letter-spacing="-0.45">-7</text>
<text transform="translate(231.4 1345.7) scale(0.96 1)" x="-9.7" y="0" font-size="22.36" letter-spacing="-0.45">-6</text>
<text transform="translate(293.7 1345.7) scale(0.96 1)" x="-9.7" y="0" font-size="22.36" letter-spacing="-0.45">-5</text>
<text transform="translate(356 1345.7) scale(0.96 1)" x="-9.7" y="0" font-size="22.36" letter-spacing="-0.45">-4</text>
<text transform="translate(140.8 1345.7) scale(0.96 1)" x="-8.04" y="0" font-size="22.36">U</text>
<text transform="translate(140.8 1370.6) scale(0.96 1)" x="-21.06" y="0" font-size="22.36" letter-spacing="-0.45">tone</text>
<text transform="translate(288.8 1372.12) scale(0.96 1)" x="-66.51" y="0" font-size="24.75" letter-spacing="-0.16">Drug log [M]</text>
<line x1="140.5" y1="1112.85" x2="151.8" y2="1112.85" stroke="#0433FF" stroke-width="3"/>
<line x1="140.5" y1="1126.8" x2="151.8" y2="1126.8" stroke="#941100" stroke-width="3"/>
<path d="M169.1 1112.81 L171.7 1112.87 L174.29 1112.93 L176.89 1113 L179.48 1113.09 L182.08 1113.18 L184.67 1113.29 L187.27 1113.42 L189.87 1113.56 L192.46 1113.72 L195.06 1113.9 L197.65 1114.1 L200.25 1114.34 L202.85 1114.6 L205.44 1114.9 L208.04 1115.24 L210.63 1115.63 L213.23 1116.07 L215.82 1116.56 L218.42 1117.13 L221.02 1117.76 L223.61 1118.47 L226.21 1119.28 L228.8 1120.19 L231.4 1121.22 L234 1122.36 L236.59 1123.65 L239.19 1125.1 L241.78 1126.71 L244.38 1128.5 L246.97 1130.5 L249.57 1132.7 L252.17 1135.14 L254.76 1137.83 L257.36 1140.76 L259.95 1143.97 L262.55 1147.45 L265.15 1151.21 L267.74 1155.24 L270.34 1159.55 L272.93 1164.12 L275.53 1168.93 L278.12 1173.96 L280.72 1179.18 L283.32 1184.56 L285.91 1190.05 L288.51 1195.62 L291.1 1201.21 L293.7 1206.78 L296.3 1212.28 L298.89 1217.67 L301.49 1222.91 L304.08 1227.97 L306.68 1232.81 L309.27 1237.41 L311.87 1241.75 L314.47 1245.82 L317.06 1249.61 L319.66 1253.12 L322.25 1256.36 L324.85 1259.33" fill="none" stroke="#0433FF" stroke-width="3" stroke-linejoin="round"/>
<path d="M169.1 1126.92 L171.7 1126.99 L174.29 1127.07 L176.89 1127.15 L179.48 1127.24 L182.08 1127.35 L184.67 1127.46 L187.27 1127.59 L189.87 1127.74 L192.46 1127.9 L195.06 1128.07 L197.65 1128.27 L200.25 1128.49 L202.85 1128.74 L205.44 1129.02 L208.04 1129.32 L210.63 1129.66 L213.23 1130.04 L215.82 1130.46 L218.42 1130.92 L221.02 1131.44 L223.61 1132.01 L226.21 1132.65 L228.8 1133.35 L231.4 1134.13 L234 1134.98 L236.59 1135.93 L239.19 1136.97 L241.78 1138.12 L244.38 1139.38 L246.97 1140.76 L249.57 1142.28 L252.17 1143.93 L254.76 1145.73 L257.36 1147.69 L259.95 1149.81 L262.55 1152.1 L265.15 1154.57 L267.74 1157.22 L270.34 1160.06 L272.93 1163.08 L275.53 1166.29 L278.12 1169.68 L280.72 1173.24 L283.32 1176.96 L285.91 1180.84 L288.51 1184.86 L291.1 1188.99 L293.7 1193.22 L296.3 1197.52 L298.89 1201.87 L301.49 1206.25 L304.08 1210.62 L306.68 1214.96 L309.27 1219.25 L311.87 1223.46 L314.47 1227.57 L317.06 1231.55 L319.66 1235.39 L322.25 1239.08 L324.85 1242.6" fill="none" stroke="#941100" stroke-width="3" stroke-linejoin="round"/>
<line x1="278.12" y1="1186.74" x2="284.35" y2="1186.74" stroke="#0433FF" stroke-width="2.2"/>
<line x1="278.12" y1="1177.94" x2="278.12" y2="1195.54" stroke="#0433FF" stroke-width="2.2"/>
<line x1="284.35" y1="1177.94" x2="284.35" y2="1195.54" stroke="#0433FF" stroke-width="2.2"/>
<line x1="281.24" y1="1177.94" x2="281.24" y2="1195.54" stroke="#0433FF" stroke-width="2.2"/>
<line x1="293.7" y1="1186.74" x2="301.18" y2="1186.74" stroke="#941100" stroke-width="2.2"/>
<line x1="293.7" y1="1177.94" x2="293.7" y2="1195.54" stroke="#941100" stroke-width="2.2"/>
<line x1="301.18" y1="1177.94" x2="301.18" y2="1195.54" stroke="#941100" stroke-width="2.2"/>
<line x1="296.81" y1="1177.94" x2="296.81" y2="1195.54" stroke="#941100" stroke-width="2.2"/>
<path d="M140.5 1102.64L151.4 1113.54L140.5 1124.44L129.6 1113.54Z" fill="#0433FF"/>
<path d="M140.5 1107.21L151.4 1118.11L140.5 1129.01L129.6 1118.11Z" fill="#941100"/>
<path d="M140.5 1095.56L150.7 1105.76L140.5 1115.96L130.3 1105.76Z" fill="#fff" stroke="#000" stroke-width="2.7" stroke-linejoin="miter"/>
<line x1="293.7" y1="1211.9" x2="293.7" y2="1223.34" stroke="#0433FF" stroke-width="2.4"/>
<line x1="288.2" y1="1223.34" x2="299.2" y2="1223.34" stroke="#0433FF" stroke-width="2.4"/>
<path d="M169.1 1098.06L180 1108.96L169.1 1119.86L158.2 1108.96Z" fill="#0433FF"/>
<path d="M200.25 1110.87L211.15 1121.77L200.25 1132.67L189.35 1121.77Z" fill="#0433FF"/>
<path d="M231.4 1118.65L242.3 1129.55L231.4 1140.45L220.5 1129.55Z" fill="#0433FF"/>
<path d="M262.55 1135.81L273.45 1146.71L262.55 1157.61L251.65 1146.71Z" fill="#0433FF"/>
<path d="M293.7 1201L304.6 1211.9L293.7 1222.8L282.8 1211.9Z" fill="#0433FF"/>
<path d="M324.85 1252.47L335.75 1263.37L324.85 1274.27L313.95 1263.37Z" fill="#0433FF"/>
<line x1="231.4" y1="1144.42" x2="231.4" y2="1132.98" stroke="#941100" stroke-width="2.4"/>
<line x1="225.9" y1="1132.98" x2="236.9" y2="1132.98" stroke="#941100" stroke-width="2.4"/>
<line x1="262.55" y1="1161.57" x2="262.55" y2="1147.85" stroke="#941100" stroke-width="2.4"/>
<line x1="257.05" y1="1147.85" x2="268.05" y2="1147.85" stroke="#941100" stroke-width="2.4"/>
<line x1="293.7" y1="1184.45" x2="293.7" y2="1168.44" stroke="#941100" stroke-width="2.4"/>
<line x1="288.2" y1="1168.44" x2="299.2" y2="1168.44" stroke="#941100" stroke-width="2.4"/>
<path d="M169.1 1112.24L180 1123.14L169.1 1134.05L158.2 1123.14Z" fill="#941100"/>
<path d="M200.25 1122.08L211.15 1132.98L200.25 1143.88L189.35 1132.98Z" fill="#941100"/>
<path d="M231.4 1133.52L242.3 1144.42L231.4 1155.32L220.5 1144.42Z" fill="#941100"/>
<path d="M262.55 1150.67L273.45 1161.57L262.55 1172.47L251.65 1161.57Z" fill="#941100"/>
<path d="M293.7 1173.55L304.6 1184.45L293.7 1195.35L282.8 1184.45Z" fill="#941100"/>
<path d="M324.85 1245.61L335.75 1256.51L324.85 1267.41L313.95 1256.51Z" fill="#941100"/>
<path d="M168.6 1108.05 L324.85 1121.54 L356 1148.99 L387.15 1163.86" fill="none" stroke="#000" stroke-width="3" stroke-linejoin="round"/>
<line x1="356" y1="1148.99" x2="356" y2="1134.12" stroke="#000" stroke-width="2.4"/>
<line x1="349.7" y1="1134.12" x2="362.3" y2="1134.12" stroke="#000" stroke-width="2.4"/>
<line x1="387.15" y1="1163.86" x2="387.15" y2="1147.85" stroke="#000" stroke-width="2.4"/>
<line x1="380.85" y1="1147.85" x2="393.45" y2="1147.85" stroke="#000" stroke-width="2.4"/>
<path d="M324.85 1111.34L335.05 1121.54L324.85 1131.74L314.65 1121.54Z" fill="#fff" stroke="#000" stroke-width="2.7" stroke-linejoin="miter"/>
<path d="M356 1138.79L366.2 1148.99L356 1159.19L345.8 1148.99Z" fill="#fff" stroke="#000" stroke-width="2.7" stroke-linejoin="miter"/>
<path d="M387.15 1153.66L397.35 1163.86L387.15 1174.06L376.95 1163.86Z" fill="#fff" stroke="#000" stroke-width="2.7" stroke-linejoin="miter"/>
<path d="M123.7 1213.5L134.2 1224L123.7 1234.5L113.2 1224Z" fill="#fff" stroke="#000" stroke-width="2.7" stroke-linejoin="miter"/>
<text transform="translate(148.2 1233.83) scale(0.96 1)" x="0" y="0" font-size="21.01" letter-spacing="-0.55">Zn</text>
<text transform="translate(171.3 1227.3) scale(0.96 1)" x="0" y="0" font-size="15.97" letter-spacing="-0.6">++</text>
<text transform="translate(193.9 1233.83) scale(0.96 1)" x="0" y="0" font-size="21.01" letter-spacing="-0.55">alone (n=6)</text>
<path d="M123.7 1245.2L134.9 1256.4L123.7 1267.6L112.5 1256.4Z" fill="#0433FF"/>
<text transform="translate(148.7 1263.63) scale(0.96 1)" x="0" y="0" font-size="21.01" letter-spacing="-0.64">Zn(DTSM) (n=7)</text>
<path d="M123.7 1277.4L134.9 1288.6L123.7 1299.8L112.5 1288.6Z" fill="#941100"/>
<text transform="translate(148.7 1295.83) scale(0.96 1)" x="0" y="0" font-size="21.01" letter-spacing="-0.57">ZnPyrithione (n=8)</text>
</g>
<g id="panel-g">
<text transform="translate(482 976.5)" x="0" y="0" font-size="51" font-weight="bold">g</text>
<line x1="593" y1="1007.9" x2="593" y2="1285.8" stroke="#000" stroke-width="2.8"/>
<line x1="584.7" y1="1284.4" x2="593" y2="1284.4" stroke="#000" stroke-width="2.8"/>
<text transform="translate(584.1 1292) scale(0.96 1)" x="-12.56" y="0" font-size="22.36" letter-spacing="-0.45">0</text>
<line x1="584.7" y1="1238.55" x2="593" y2="1238.55" stroke="#000" stroke-width="2.8"/>
<text transform="translate(584.1 1246.15) scale(0.96 1)" x="-24.42" y="0" font-size="22.36" letter-spacing="-0.45">20</text>
<line x1="584.7" y1="1192.7" x2="593" y2="1192.7" stroke="#000" stroke-width="2.8"/>
<text transform="translate(584.1 1200.3) scale(0.96 1)" x="-24.42" y="0" font-size="22.36" letter-spacing="-0.45">40</text>
<line x1="584.7" y1="1146.85" x2="593" y2="1146.85" stroke="#000" stroke-width="2.8"/>
<text transform="translate(584.1 1154.45) scale(0.96 1)" x="-24.42" y="0" font-size="22.36" letter-spacing="-0.45">60</text>
<line x1="584.7" y1="1101" x2="593" y2="1101" stroke="#000" stroke-width="2.8"/>
<text transform="translate(584.1 1108.6) scale(0.96 1)" x="-24.42" y="0" font-size="22.36" letter-spacing="-0.45">80</text>
<line x1="584.7" y1="1055.15" x2="593" y2="1055.15" stroke="#000" stroke-width="2.8"/>
<text transform="translate(584.1 1062.75) scale(0.96 1)" x="-36.53" y="0" font-size="22.36" letter-spacing="-0.45">100</text>
<line x1="584.7" y1="1009.3" x2="593" y2="1009.3" stroke="#000" stroke-width="2.8"/>
<text transform="translate(584.1 1016.9) scale(0.96 1)" x="-36.53" y="0" font-size="22.36" letter-spacing="-0.45">120</text>
<text transform="translate(501.8 1142.3) rotate(-90) scale(0.96 1)" x="-137.5" y="8.52" font-size="24.75" letter-spacing="-0.07">% KPSS max contraction</text>
<text transform="translate(527.4 1142.3) rotate(-90) scale(0.96 1)" x="-144.48" y="8.52" font-size="24.75" letter-spacing="0">(Human saphenous veins)</text>
<line x1="614.2" y1="1314.7" x2="645.2" y2="1314.7" stroke="#000" stroke-width="3"/>
<line x1="615.7" y1="1314.7" x2="615.7" y2="1323.7" stroke="#000" stroke-width="3"/>
<line x1="645.2" y1="1307.4" x2="645.2" y2="1322" stroke="#000" stroke-width="3.2"/>
<line x1="664.2" y1="1314.7" x2="893.45" y2="1314.7" stroke="#000" stroke-width="3"/>
<line x1="664.2" y1="1307.4" x2="664.2" y2="1322" stroke="#000" stroke-width="3.2"/>
<line x1="696.75" y1="1314.7" x2="696.75" y2="1321" stroke="#000" stroke-width="2.8"/>
<line x1="729.3" y1="1314.7" x2="729.3" y2="1323.9" stroke="#000" stroke-width="3.4"/>
<line x1="761.85" y1="1314.7" x2="761.85" y2="1321" stroke="#000" stroke-width="2.8"/>
<line x1="794.4" y1="1314.7" x2="794.4" y2="1323.9" stroke="#000" stroke-width="3.4"/>
<line x1="826.95" y1="1314.7" x2="826.95" y2="1321" stroke="#000" stroke-width="2.8"/>
<line x1="859.5" y1="1314.7" x2="859.5" y2="1323.9" stroke="#000" stroke-width="3.4"/>
<line x1="892.05" y1="1314.7" x2="892.05" y2="1321" stroke="#000" stroke-width="2.8"/>
<text transform="translate(664.2 1345.1) scale(0.96 1)" x="-9.7" y="0" font-size="22.36" letter-spacing="-0.45">-7</text>
<text transform="translate(729.3 1345.1) scale(0.96 1)" x="-9.7" y="0" font-size="22.36" letter-spacing="-0.45">-6</text>
<text transform="translate(794.4 1345.1) scale(0.96 1)" x="-9.7" y="0" font-size="22.36" letter-spacing="-0.45">-5</text>
<text transform="translate(859.5 1345.1) scale(0.96 1)" x="-9.7" y="0" font-size="22.36" letter-spacing="-0.45">-4</text>
<text transform="translate(630.6 1345.1) scale(0.96 1)" x="-8.04" y="0" font-size="22.36">U</text>
<text transform="translate(630.6 1370.1) scale(0.96 1)" x="-21.06" y="0" font-size="22.36" letter-spacing="-0.45">tone</text>
<text transform="translate(783.8 1371.72) scale(0.96 1)" x="-66.51" y="0" font-size="24.75" letter-spacing="-0.16">Drug log [M]</text>
<line x1="630.5" y1="1112.69" x2="646.8" y2="1112.69" stroke="#0433FF" stroke-width="3"/>
<line x1="630.5" y1="1101.23" x2="646.8" y2="1101.23" stroke="#000" stroke-width="3"/>
<path d="M664.2 1111.37 L666.91 1111.38 L669.62 1111.4 L672.34 1111.41 L675.05 1111.42 L677.76 1111.44 L680.48 1111.46 L683.19 1111.49 L685.9 1111.52 L688.61 1111.55 L691.33 1111.59 L694.04 1111.63 L696.75 1111.68 L699.46 1111.74 L702.18 1111.82 L704.89 1111.9 L707.6 1111.99 L710.31 1112.11 L713.03 1112.24 L715.74 1112.39 L718.45 1112.56 L721.16 1112.77 L723.88 1113.01 L726.59 1113.29 L729.3 1113.61 L732.01 1113.98 L734.73 1114.42 L737.44 1114.92 L740.15 1115.51 L742.86 1116.18 L745.58 1116.96 L748.29 1117.87 L751 1118.9 L753.71 1120.1 L756.43 1121.47 L759.14 1123.04 L761.85 1124.84 L764.56 1126.88 L767.27 1129.19 L769.99 1131.81 L772.7 1134.75 L775.41 1138.03 L778.12 1141.69 L780.84 1145.72 L783.55 1150.15 L786.26 1154.97 L788.98 1160.17 L791.69 1165.73 L794.4 1171.61 L797.11 1177.77 L799.83 1184.16 L802.54 1190.7 L805.25 1197.33 L807.96 1203.96 L810.68 1210.52 L813.39 1216.94 L816.1 1223.14 L818.81 1229.07 L821.52 1234.68 L824.24 1239.94 L826.95 1244.82" fill="none" stroke="#0433FF" stroke-width="3" stroke-linejoin="round"/>
<line x1="784.63" y1="1177.8" x2="799.61" y2="1177.8" stroke="#0433FF" stroke-width="2.2"/>
<line x1="784.63" y1="1169" x2="784.63" y2="1186.6" stroke="#0433FF" stroke-width="2.2"/>
<line x1="799.61" y1="1169" x2="799.61" y2="1186.6" stroke="#0433FF" stroke-width="2.2"/>
<line x1="792.45" y1="1169" x2="792.45" y2="1186.6" stroke="#0433FF" stroke-width="2.2"/>
<line x1="630.5" y1="1101" x2="630.5" y2="1089.54" stroke="#000" stroke-width="2.2"/>
<line x1="624.2" y1="1089.54" x2="636.8" y2="1089.54" stroke="#000" stroke-width="2.2"/>
<path d="M630.5 1091.03L640.7 1101.23L630.5 1111.43L620.3 1101.23Z" fill="#fff" stroke="#000" stroke-width="2.7" stroke-linejoin="miter"/>
<line x1="794.4" y1="1170.92" x2="794.4" y2="1154.87" stroke="#0433FF" stroke-width="2.4"/>
<line x1="788.9" y1="1154.87" x2="799.9" y2="1154.87" stroke="#0433FF" stroke-width="2.4"/>
<path d="M664.2 1099.73L675.1 1110.63L664.2 1121.53L653.3 1110.63Z" fill="#0433FF"/>
<path d="M696.75 1103.63L707.65 1114.53L696.75 1125.43L685.85 1114.53Z" fill="#0433FF"/>
<path d="M729.3 1117.61L740.2 1128.51L729.3 1139.41L718.4 1128.51Z" fill="#0433FF"/>
<path d="M761.85 1131.37L772.75 1142.27L761.85 1153.17L750.95 1142.27Z" fill="#0433FF"/>
<path d="M794.4 1160.02L805.3 1170.92L794.4 1181.82L783.5 1170.92Z" fill="#0433FF"/>
<path d="M826.95 1241.4L837.85 1252.31L826.95 1263.21L816.05 1252.31Z" fill="#0433FF"/>
<path d="M662.5 1101 L826.95 1101 L859.5 1111.32 L892.05 1137.68" fill="none" stroke="#000" stroke-width="3" stroke-linejoin="round"/>
<line x1="826.95" y1="1101" x2="826.95" y2="1086.1" stroke="#000" stroke-width="2.4"/>
<line x1="820.65" y1="1086.1" x2="833.25" y2="1086.1" stroke="#000" stroke-width="2.4"/>
<line x1="859.5" y1="1111.32" x2="859.5" y2="1095.27" stroke="#000" stroke-width="2.4"/>
<line x1="853.2" y1="1095.27" x2="865.8" y2="1095.27" stroke="#000" stroke-width="2.4"/>
<line x1="892.05" y1="1137.68" x2="892.05" y2="1119.34" stroke="#000" stroke-width="2.4"/>
<line x1="885.75" y1="1119.34" x2="898.35" y2="1119.34" stroke="#000" stroke-width="2.4"/>
<path d="M826.95 1090.8L837.15 1101L826.95 1111.2L816.75 1101Z" fill="#fff" stroke="#000" stroke-width="2.7" stroke-linejoin="miter"/>
<path d="M859.5 1101.12L869.7 1111.32L859.5 1121.52L849.3 1111.32Z" fill="#fff" stroke="#000" stroke-width="2.7" stroke-linejoin="miter"/>
<path d="M892.05 1127.48L902.25 1137.68L892.05 1147.88L881.85 1137.68Z" fill="#fff" stroke="#000" stroke-width="2.7" stroke-linejoin="miter"/>
<path d="M612.7 1233.3L623.9 1244.5L612.7 1255.7L601.5 1244.5Z" fill="#0433FF"/>
<text transform="translate(638.1 1251.73) scale(0.96 1)" x="0" y="0" font-size="21.01" letter-spacing="-0.56">Zn(DTSM) (n=6)</text>
<path d="M612.7 1266.3L623.2 1276.8L612.7 1287.3L602.2 1276.8Z" fill="#fff" stroke="#000" stroke-width="2.7" stroke-linejoin="miter"/>
<text transform="translate(637.6 1286.63) scale(0.96 1)" x="0" y="0" font-size="21.01" letter-spacing="-0.55">Zn</text>
<text transform="translate(660.7 1280.1) scale(0.96 1)" x="0" y="0" font-size="15.97" letter-spacing="-0.6">++</text>
<text transform="translate(683.3 1286.63) scale(0.96 1)" x="0" y="0" font-size="21.01" letter-spacing="-0.55">alone (n=5)</text>
</g>
<g id="panel-h">
<text transform="translate(950 978)" x="0" y="0" font-size="51" font-weight="bold">h</text>
<line x1="1057.7" y1="1012.53" x2="1057.7" y2="1289.95" stroke="#000" stroke-width="3.1"/>
<line x1="1047.1" y1="1288.4" x2="1057.7" y2="1288.4" stroke="#000" stroke-width="3.1"/>
<text transform="translate(1046.5 1295.93) scale(0.96 1)" x="-24.19" y="0" font-size="22.15" letter-spacing="-0.45">40</text>
<line x1="1047.1" y1="1254.11" x2="1057.7" y2="1254.11" stroke="#000" stroke-width="3.1"/>
<text transform="translate(1046.5 1261.64) scale(0.96 1)" x="-24.19" y="0" font-size="22.15" letter-spacing="-0.45">50</text>
<line x1="1047.1" y1="1219.82" x2="1057.7" y2="1219.82" stroke="#000" stroke-width="3.1"/>
<text transform="translate(1046.5 1227.35) scale(0.96 1)" x="-24.19" y="0" font-size="22.15" letter-spacing="-0.45">60</text>
<line x1="1047.1" y1="1185.53" x2="1057.7" y2="1185.53" stroke="#000" stroke-width="3.1"/>
<text transform="translate(1046.5 1193.06) scale(0.96 1)" x="-24.19" y="0" font-size="22.15" letter-spacing="-0.45">70</text>
<line x1="1047.1" y1="1151.24" x2="1057.7" y2="1151.24" stroke="#000" stroke-width="3.1"/>
<text transform="translate(1046.5 1158.77) scale(0.96 1)" x="-24.19" y="0" font-size="22.15" letter-spacing="-0.45">80</text>
<line x1="1047.1" y1="1116.95" x2="1057.7" y2="1116.95" stroke="#000" stroke-width="3.1"/>
<text transform="translate(1046.5 1124.48) scale(0.96 1)" x="-24.19" y="0" font-size="22.15" letter-spacing="-0.45">90</text>
<line x1="1047.1" y1="1082.66" x2="1057.7" y2="1082.66" stroke="#000" stroke-width="3.1"/>
<text transform="translate(1046.5 1090.19) scale(0.96 1)" x="-36.19" y="0" font-size="22.15" letter-spacing="-0.45">100</text>
<line x1="1047.1" y1="1048.37" x2="1057.7" y2="1048.37" stroke="#000" stroke-width="3.1"/>
<text transform="translate(1046.5 1055.9) scale(0.96 1)" x="-34.44" y="0" font-size="22.15" letter-spacing="-0.45">110</text>
<line x1="1047.1" y1="1014.08" x2="1057.7" y2="1014.08" stroke="#000" stroke-width="3.1"/>
<text transform="translate(1046.5 1021.61) scale(0.96 1)" x="-36.19" y="0" font-size="22.15" letter-spacing="-0.45">120</text>
<text transform="translate(966.3 1148.2) rotate(-90) scale(0.96 1)" x="-72.29" y="8.23" font-size="23.92" letter-spacing="0.01">MAP (mmHg)</text>
<text transform="translate(993.7 1148.2) rotate(-90) scale(0.96 1)" x="-94.9" y="8.23" font-size="23.92" letter-spacing="0.05">(Anesthetized rat)</text>
<line x1="1085.25" y1="1318.5" x2="1945.46" y2="1318.5" stroke="#000" stroke-width="3.2"/>
<line x1="1086.85" y1="1318.5" x2="1086.85" y2="1328.5" stroke="#000" stroke-width="3.3"/>
<text transform="translate(1086.85 1348.13) scale(0.96 1)" x="-9.61" y="0" font-size="22.15" letter-spacing="-0.45">-5</text>
<line x1="1167.7" y1="1318.5" x2="1167.7" y2="1328.5" stroke="#000" stroke-width="3.3"/>
<text transform="translate(1167.7 1348.13) scale(0.96 1)" x="-6.22" y="0" font-size="22.15" letter-spacing="-0.45">0</text>
<line x1="1361.74" y1="1318.5" x2="1361.74" y2="1328.5" stroke="#000" stroke-width="3.3"/>
<text transform="translate(1361.74 1348.13) scale(0.96 1)" x="-12.1" y="0" font-size="22.15" letter-spacing="-0.45">12</text>
<line x1="1555.78" y1="1318.5" x2="1555.78" y2="1328.5" stroke="#000" stroke-width="3.3"/>
<text transform="translate(1555.78 1348.13) scale(0.96 1)" x="-12.1" y="0" font-size="22.15" letter-spacing="-0.45">24</text>
<line x1="1749.82" y1="1318.5" x2="1749.82" y2="1328.5" stroke="#000" stroke-width="3.3"/>
<text transform="translate(1749.82 1348.13) scale(0.96 1)" x="-12.1" y="0" font-size="22.15" letter-spacing="-0.45">36</text>
<line x1="1943.86" y1="1318.5" x2="1943.86" y2="1328.5" stroke="#000" stroke-width="3.3"/>
<text transform="translate(1943.86 1348.13) scale(0.96 1)" x="-12.1" y="0" font-size="22.15" letter-spacing="-0.45">48</text>
<line x1="1103.02" y1="1318.5" x2="1103.02" y2="1324.5" stroke="#000" stroke-width="2.8"/>
<line x1="1135.36" y1="1318.5" x2="1135.36" y2="1324.5" stroke="#000" stroke-width="2.8"/>
<line x1="1200.04" y1="1318.5" x2="1200.04" y2="1324.5" stroke="#000" stroke-width="2.8"/>
<line x1="1232.38" y1="1318.5" x2="1232.38" y2="1324.5" stroke="#000" stroke-width="2.8"/>
<line x1="1264.72" y1="1318.5" x2="1264.72" y2="1324.5" stroke="#000" stroke-width="2.8"/>
<line x1="1297.06" y1="1318.5" x2="1297.06" y2="1324.5" stroke="#000" stroke-width="2.8"/>
<line x1="1329.4" y1="1318.5" x2="1329.4" y2="1324.5" stroke="#000" stroke-width="2.8"/>
<line x1="1394.08" y1="1318.5" x2="1394.08" y2="1324.5" stroke="#000" stroke-width="2.8"/>
<line x1="1426.42" y1="1318.5" x2="1426.42" y2="1324.5" stroke="#000" stroke-width="2.8"/>
<line x1="1458.76" y1="1318.5" x2="1458.76" y2="1324.5" stroke="#000" stroke-width="2.8"/>
<line x1="1491.1" y1="1318.5" x2="1491.1" y2="1324.5" stroke="#000" stroke-width="2.8"/>
<line x1="1523.44" y1="1318.5" x2="1523.44" y2="1324.5" stroke="#000" stroke-width="2.8"/>
<line x1="1588.12" y1="1318.5" x2="1588.12" y2="1324.5" stroke="#000" stroke-width="2.8"/>
<line x1="1620.46" y1="1318.5" x2="1620.46" y2="1324.5" stroke="#000" stroke-width="2.8"/>
<line x1="1652.8" y1="1318.5" x2="1652.8" y2="1324.5" stroke="#000" stroke-width="2.8"/>
<line x1="1685.14" y1="1318.5" x2="1685.14" y2="1324.5" stroke="#000" stroke-width="2.8"/>
<line x1="1717.48" y1="1318.5" x2="1717.48" y2="1324.5" stroke="#000" stroke-width="2.8"/>
<line x1="1782.16" y1="1318.5" x2="1782.16" y2="1324.5" stroke="#000" stroke-width="2.8"/>
<line x1="1814.5" y1="1318.5" x2="1814.5" y2="1324.5" stroke="#000" stroke-width="2.8"/>
<line x1="1846.84" y1="1318.5" x2="1846.84" y2="1324.5" stroke="#000" stroke-width="2.8"/>
<line x1="1879.18" y1="1318.5" x2="1879.18" y2="1324.5" stroke="#000" stroke-width="2.8"/>
<line x1="1911.52" y1="1318.5" x2="1911.52" y2="1324.5" stroke="#000" stroke-width="2.8"/>
<text transform="translate(1515.3 1375.5) scale(0.96 1)" x="-63.39" y="0" font-size="26.73" letter-spacing="0.01">Time (min)</text>
<path d="M1086.85 1128.95 L1167.7 1126.55 L1200.04 1055.91 L1216.21 1047.34 L1232.38 1053.51 L1248.55 1061.4 L1329.4 1101.52 L1361.74 1102.21 L1394.08 1076.83 L1410.25 1055.23 L1426.42 1038.08 L1442.59 1046.66 L1523.44 1092.26 L1555.78 1091.92 L1588.12 1073.74 L1604.29 1071.69 L1620.46 1075.12 L1636.63 1084.03 L1717.48 1099.12 L1749.82 1110.78 L1782.16 1103.92 L1798.33 1076.49 L1814.5 1067.23 L1830.67 1067.92 L1911.52 1107.35" fill="none" stroke="#000" stroke-width="3.1" stroke-dasharray="10.5 5.5" stroke-linejoin="round"/>
<line x1="1200.04" y1="1055.91" x2="1200.04" y2="1044.94" stroke="#000" stroke-width="2.4"/>
<line x1="1194.24" y1="1044.94" x2="1205.84" y2="1044.94" stroke="#000" stroke-width="2.4"/>
<line x1="1216.21" y1="1047.34" x2="1216.21" y2="1036.37" stroke="#000" stroke-width="2.4"/>
<line x1="1210.41" y1="1036.37" x2="1222.01" y2="1036.37" stroke="#000" stroke-width="2.4"/>
<line x1="1232.38" y1="1053.51" x2="1232.38" y2="1044.94" stroke="#000" stroke-width="2.4"/>
<line x1="1226.58" y1="1044.94" x2="1238.18" y2="1044.94" stroke="#000" stroke-width="2.4"/>
<line x1="1248.55" y1="1061.4" x2="1248.55" y2="1053.51" stroke="#000" stroke-width="2.4"/>
<line x1="1242.75" y1="1053.51" x2="1254.35" y2="1053.51" stroke="#000" stroke-width="2.4"/>
<line x1="1361.74" y1="1102.21" x2="1361.74" y2="1075.8" stroke="#000" stroke-width="2.4"/>
<line x1="1355.94" y1="1075.8" x2="1367.54" y2="1075.8" stroke="#000" stroke-width="2.4"/>
<line x1="1394.08" y1="1076.83" x2="1394.08" y2="1058.66" stroke="#000" stroke-width="2.4"/>
<line x1="1388.28" y1="1058.66" x2="1399.88" y2="1058.66" stroke="#000" stroke-width="2.4"/>
<line x1="1410.25" y1="1055.23" x2="1410.25" y2="1038.08" stroke="#000" stroke-width="2.4"/>
<line x1="1404.45" y1="1038.08" x2="1416.05" y2="1038.08" stroke="#000" stroke-width="2.4"/>
<line x1="1426.42" y1="1038.08" x2="1426.42" y2="1017.51" stroke="#000" stroke-width="2.4"/>
<line x1="1420.62" y1="1017.51" x2="1432.22" y2="1017.51" stroke="#000" stroke-width="2.4"/>
<line x1="1442.59" y1="1046.66" x2="1442.59" y2="1029.51" stroke="#000" stroke-width="2.4"/>
<line x1="1436.79" y1="1029.51" x2="1448.39" y2="1029.51" stroke="#000" stroke-width="2.4"/>
<line x1="1588.12" y1="1073.74" x2="1588.12" y2="1055.23" stroke="#000" stroke-width="2.4"/>
<line x1="1582.32" y1="1055.23" x2="1593.92" y2="1055.23" stroke="#000" stroke-width="2.4"/>
<line x1="1604.29" y1="1071.69" x2="1604.29" y2="1051.8" stroke="#000" stroke-width="2.4"/>
<line x1="1598.49" y1="1051.8" x2="1610.09" y2="1051.8" stroke="#000" stroke-width="2.4"/>
<line x1="1620.46" y1="1075.12" x2="1620.46" y2="1054.54" stroke="#000" stroke-width="2.4"/>
<line x1="1614.66" y1="1054.54" x2="1626.26" y2="1054.54" stroke="#000" stroke-width="2.4"/>
<line x1="1636.63" y1="1084.03" x2="1636.63" y2="1056.94" stroke="#000" stroke-width="2.4"/>
<line x1="1630.83" y1="1056.94" x2="1642.43" y2="1056.94" stroke="#000" stroke-width="2.4"/>
<line x1="1717.48" y1="1099.12" x2="1717.48" y2="1065.52" stroke="#000" stroke-width="2.4"/>
<line x1="1711.68" y1="1065.52" x2="1723.28" y2="1065.52" stroke="#000" stroke-width="2.4"/>
<line x1="1782.16" y1="1103.92" x2="1782.16" y2="1079.23" stroke="#000" stroke-width="2.4"/>
<line x1="1776.36" y1="1079.23" x2="1787.96" y2="1079.23" stroke="#000" stroke-width="2.4"/>
<line x1="1798.33" y1="1076.49" x2="1798.33" y2="1046.66" stroke="#000" stroke-width="2.4"/>
<line x1="1792.53" y1="1046.66" x2="1804.13" y2="1046.66" stroke="#000" stroke-width="2.4"/>
<line x1="1814.5" y1="1067.23" x2="1814.5" y2="1038.08" stroke="#000" stroke-width="2.4"/>
<line x1="1808.7" y1="1038.08" x2="1820.3" y2="1038.08" stroke="#000" stroke-width="2.4"/>
<line x1="1830.67" y1="1067.92" x2="1830.67" y2="1038.77" stroke="#000" stroke-width="2.4"/>
<line x1="1824.87" y1="1038.77" x2="1836.47" y2="1038.77" stroke="#000" stroke-width="2.4"/>
<line x1="1911.52" y1="1107.35" x2="1911.52" y2="1076.49" stroke="#000" stroke-width="2.4"/>
<line x1="1905.72" y1="1076.49" x2="1917.32" y2="1076.49" stroke="#000" stroke-width="2.4"/>
<circle cx="1086.85" cy="1128.95" r="8.1" fill="#fff" stroke="#000" stroke-width="2.6"/>
<circle cx="1167.7" cy="1126.55" r="8.1" fill="#fff" stroke="#000" stroke-width="2.6"/>
<circle cx="1200.04" cy="1055.91" r="8.1" fill="#fff" stroke="#000" stroke-width="2.6"/>
<circle cx="1216.21" cy="1047.34" r="8.1" fill="#fff" stroke="#000" stroke-width="2.6"/>
<circle cx="1232.38" cy="1053.51" r="8.1" fill="#fff" stroke="#000" stroke-width="2.6"/>
<circle cx="1248.55" cy="1061.4" r="8.1" fill="#fff" stroke="#000" stroke-width="2.6"/>
<circle cx="1329.4" cy="1101.52" r="8.1" fill="#fff" stroke="#000" stroke-width="2.6"/>
<circle cx="1361.74" cy="1102.21" r="8.1" fill="#fff" stroke="#000" stroke-width="2.6"/>
<circle cx="1394.08" cy="1076.83" r="8.1" fill="#fff" stroke="#000" stroke-width="2.6"/>
<circle cx="1410.25" cy="1055.23" r="8.1" fill="#fff" stroke="#000" stroke-width="2.6"/>
<circle cx="1426.42" cy="1038.08" r="8.1" fill="#fff" stroke="#000" stroke-width="2.6"/>
<circle cx="1442.59" cy="1046.66" r="8.1" fill="#fff" stroke="#000" stroke-width="2.6"/>
<circle cx="1523.44" cy="1092.26" r="8.1" fill="#fff" stroke="#000" stroke-width="2.6"/>
<circle cx="1555.78" cy="1091.92" r="8.1" fill="#fff" stroke="#000" stroke-width="2.6"/>
<circle cx="1588.12" cy="1073.74" r="8.1" fill="#fff" stroke="#000" stroke-width="2.6"/>
<circle cx="1604.29" cy="1071.69" r="8.1" fill="#fff" stroke="#000" stroke-width="2.6"/>
<circle cx="1620.46" cy="1075.12" r="8.1" fill="#fff" stroke="#000" stroke-width="2.6"/>
<circle cx="1636.63" cy="1084.03" r="8.1" fill="#fff" stroke="#000" stroke-width="2.6"/>
<circle cx="1717.48" cy="1099.12" r="8.1" fill="#fff" stroke="#000" stroke-width="2.6"/>
<circle cx="1749.82" cy="1110.78" r="8.1" fill="#fff" stroke="#000" stroke-width="2.6"/>
<circle cx="1782.16" cy="1103.92" r="8.1" fill="#fff" stroke="#000" stroke-width="2.6"/>
<circle cx="1798.33" cy="1076.49" r="8.1" fill="#fff" stroke="#000" stroke-width="2.6"/>
<circle cx="1814.5" cy="1067.23" r="8.1" fill="#fff" stroke="#000" stroke-width="2.6"/>
<circle cx="1830.67" cy="1067.92" r="8.1" fill="#fff" stroke="#000" stroke-width="2.6"/>
<circle cx="1911.52" cy="1107.35" r="8.1" fill="#fff" stroke="#000" stroke-width="2.6"/>
<path d="M1086.85 1119.35 L1167.7 1117.98 L1200.04 1098.09 L1216.21 1086.09 L1232.38 1086.09 L1248.55 1085.06 L1329.4 1080.26 L1361.74 1101.52 L1394.08 1102.21 L1410.25 1084.37 L1426.42 1081.63 L1442.59 1080.95 L1523.44 1071.69 L1555.78 1076.49 L1588.12 1140.95 L1604.29 1122.09 L1620.46 1117.64 L1636.63 1104.95 L1717.48 1083.35 L1749.82 1081.63 L1782.16 1188.96 L1798.33 1177.64 L1814.5 1196.5 L1830.67 1219.13 L1911.52 1232.85" fill="none" stroke="#0433FF" stroke-width="3.2" stroke-linejoin="round"/>
<line x1="1200.04" y1="1098.09" x2="1200.04" y2="1113.52" stroke="#0433FF" stroke-width="2.4"/>
<line x1="1194.24" y1="1113.52" x2="1205.84" y2="1113.52" stroke="#0433FF" stroke-width="2.4"/>
<line x1="1216.21" y1="1086.09" x2="1216.21" y2="1104.95" stroke="#0433FF" stroke-width="2.4"/>
<line x1="1210.41" y1="1104.95" x2="1222.01" y2="1104.95" stroke="#0433FF" stroke-width="2.4"/>
<line x1="1232.38" y1="1086.09" x2="1232.38" y2="1106.66" stroke="#0433FF" stroke-width="2.4"/>
<line x1="1226.58" y1="1106.66" x2="1238.18" y2="1106.66" stroke="#0433FF" stroke-width="2.4"/>
<line x1="1248.55" y1="1085.06" x2="1248.55" y2="1106.66" stroke="#0433FF" stroke-width="2.4"/>
<line x1="1242.75" y1="1106.66" x2="1254.35" y2="1106.66" stroke="#0433FF" stroke-width="2.4"/>
<line x1="1329.4" y1="1080.26" x2="1329.4" y2="1101.52" stroke="#0433FF" stroke-width="2.4"/>
<line x1="1323.6" y1="1101.52" x2="1335.2" y2="1101.52" stroke="#0433FF" stroke-width="2.4"/>
<line x1="1394.08" y1="1102.21" x2="1394.08" y2="1118.66" stroke="#0433FF" stroke-width="2.4"/>
<line x1="1388.28" y1="1118.66" x2="1399.88" y2="1118.66" stroke="#0433FF" stroke-width="2.4"/>
<line x1="1410.25" y1="1084.37" x2="1410.25" y2="1099.81" stroke="#0433FF" stroke-width="2.4"/>
<line x1="1404.45" y1="1099.81" x2="1416.05" y2="1099.81" stroke="#0433FF" stroke-width="2.4"/>
<line x1="1426.42" y1="1081.63" x2="1426.42" y2="1093.63" stroke="#0433FF" stroke-width="2.4"/>
<line x1="1420.62" y1="1093.63" x2="1432.22" y2="1093.63" stroke="#0433FF" stroke-width="2.4"/>
<line x1="1442.59" y1="1080.95" x2="1442.59" y2="1092.95" stroke="#0433FF" stroke-width="2.4"/>
<line x1="1436.79" y1="1092.95" x2="1448.39" y2="1092.95" stroke="#0433FF" stroke-width="2.4"/>
<line x1="1588.12" y1="1140.95" x2="1588.12" y2="1170.1" stroke="#0433FF" stroke-width="2.4"/>
<line x1="1582.32" y1="1170.1" x2="1593.92" y2="1170.1" stroke="#0433FF" stroke-width="2.4"/>
<line x1="1604.29" y1="1122.09" x2="1604.29" y2="1151.24" stroke="#0433FF" stroke-width="2.4"/>
<line x1="1598.49" y1="1151.24" x2="1610.09" y2="1151.24" stroke="#0433FF" stroke-width="2.4"/>
<line x1="1620.46" y1="1117.64" x2="1620.46" y2="1144.38" stroke="#0433FF" stroke-width="2.4"/>
<line x1="1614.66" y1="1144.38" x2="1626.26" y2="1144.38" stroke="#0433FF" stroke-width="2.4"/>
<line x1="1636.63" y1="1104.95" x2="1636.63" y2="1134.1" stroke="#0433FF" stroke-width="2.4"/>
<line x1="1630.83" y1="1134.1" x2="1642.43" y2="1134.1" stroke="#0433FF" stroke-width="2.4"/>
<line x1="1717.48" y1="1083.35" x2="1717.48" y2="1122.09" stroke="#0433FF" stroke-width="2.4"/>
<line x1="1711.68" y1="1122.09" x2="1723.28" y2="1122.09" stroke="#0433FF" stroke-width="2.4"/>
<line x1="1749.82" y1="1081.63" x2="1749.82" y2="1120.38" stroke="#0433FF" stroke-width="2.4"/>
<line x1="1744.02" y1="1120.38" x2="1755.62" y2="1120.38" stroke="#0433FF" stroke-width="2.4"/>
<line x1="1782.16" y1="1188.96" x2="1782.16" y2="1218.11" stroke="#0433FF" stroke-width="2.4"/>
<line x1="1776.36" y1="1218.11" x2="1787.96" y2="1218.11" stroke="#0433FF" stroke-width="2.4"/>
<line x1="1798.33" y1="1177.64" x2="1798.33" y2="1212.96" stroke="#0433FF" stroke-width="2.4"/>
<line x1="1792.53" y1="1212.96" x2="1804.13" y2="1212.96" stroke="#0433FF" stroke-width="2.4"/>
<line x1="1814.5" y1="1196.5" x2="1814.5" y2="1216.39" stroke="#0433FF" stroke-width="2.4"/>
<line x1="1808.7" y1="1216.39" x2="1820.3" y2="1216.39" stroke="#0433FF" stroke-width="2.4"/>
<line x1="1830.67" y1="1219.13" x2="1830.67" y2="1235.25" stroke="#0433FF" stroke-width="2.4"/>
<line x1="1824.87" y1="1235.25" x2="1836.47" y2="1235.25" stroke="#0433FF" stroke-width="2.4"/>
<line x1="1911.52" y1="1232.85" x2="1911.52" y2="1267.14" stroke="#0433FF" stroke-width="2.4"/>
<line x1="1905.72" y1="1267.14" x2="1917.32" y2="1267.14" stroke="#0433FF" stroke-width="2.4"/>
<circle cx="1086.85" cy="1119.35" r="9.5" fill="#0433FF"/>
<circle cx="1167.7" cy="1117.98" r="9.5" fill="#0433FF"/>
<circle cx="1200.04" cy="1098.09" r="9.5" fill="#0433FF"/>
<circle cx="1216.21" cy="1086.09" r="9.5" fill="#0433FF"/>
<circle cx="1232.38" cy="1086.09" r="9.5" fill="#0433FF"/>
<circle cx="1248.55" cy="1085.06" r="9.5" fill="#0433FF"/>
<circle cx="1329.4" cy="1080.26" r="9.5" fill="#0433FF"/>
<circle cx="1361.74" cy="1101.52" r="9.5" fill="#0433FF"/>
<circle cx="1394.08" cy="1102.21" r="9.5" fill="#0433FF"/>
<circle cx="1410.25" cy="1084.37" r="9.5" fill="#0433FF"/>
<circle cx="1426.42" cy="1081.63" r="9.5" fill="#0433FF"/>
<circle cx="1442.59" cy="1080.95" r="9.5" fill="#0433FF"/>
<circle cx="1523.44" cy="1071.69" r="9.5" fill="#0433FF"/>
<circle cx="1555.78" cy="1076.49" r="9.5" fill="#0433FF"/>
<circle cx="1588.12" cy="1140.95" r="9.5" fill="#0433FF"/>
<circle cx="1604.29" cy="1122.09" r="9.5" fill="#0433FF"/>
<circle cx="1620.46" cy="1117.64" r="9.5" fill="#0433FF"/>
<circle cx="1636.63" cy="1104.95" r="9.5" fill="#0433FF"/>
<circle cx="1717.48" cy="1083.35" r="9.5" fill="#0433FF"/>
<circle cx="1749.82" cy="1081.63" r="9.5" fill="#0433FF"/>
<circle cx="1782.16" cy="1188.96" r="9.5" fill="#0433FF"/>
<circle cx="1798.33" cy="1177.64" r="9.5" fill="#0433FF"/>
<circle cx="1814.5" cy="1196.5" r="9.5" fill="#0433FF"/>
<circle cx="1830.67" cy="1219.13" r="9.5" fill="#0433FF"/>
<circle cx="1911.52" cy="1232.85" r="9.5" fill="#0433FF"/>
<text transform="translate(1169 998.65) scale(0.96 1)" x="-48.72" y="0" font-size="21.63" letter-spacing="-0.5">Zn(DTSM)</text>
<text transform="translate(1169 1023.15) scale(0.96 1)" x="-55.76" y="0" font-size="21.63" letter-spacing="-0.3">1 mg/kg, i.v.</text>
<text transform="translate(1361.3 996.95) scale(0.96 1)" x="-55.76" y="0" font-size="21.63" letter-spacing="-0.3">3 mg/kg, i.v.</text>
<text transform="translate(1555.4 996.95) scale(0.96 1)" x="-61.58" y="0" font-size="21.63" letter-spacing="-0.3">10 mg/kg, i.v.</text>
<text transform="translate(1769.4 993.35) scale(0.96 1)" x="-61.58" y="0" font-size="21.63" letter-spacing="-0.3">30 mg/kg, i.v.</text>
<text transform="translate(1836.4 987.26)" x="-7.88" y="0" font-size="40" font-weight="bold">*</text>
<line x1="1165.5" y1="1032.2" x2="1165.5" y2="1062.28" stroke="#000" stroke-width="2.2"/>
<path d="M1165.5 1071.7L1158.9 1056L1165.5 1056L1172.1 1056Z" fill="#000"/>
<line x1="1361.9" y1="1007.6" x2="1361.9" y2="1037.58" stroke="#000" stroke-width="2.2"/>
<path d="M1361.9 1047L1355.3 1031.3L1361.9 1031.3L1368.5 1031.3Z" fill="#000"/>
<line x1="1555.4" y1="1003.6" x2="1555.4" y2="1033.58" stroke="#000" stroke-width="2.2"/>
<path d="M1555.4 1043L1548.8 1027.3L1555.4 1027.3L1562 1027.3Z" fill="#000"/>
<line x1="1750" y1="1007.6" x2="1750" y2="1037.58" stroke="#000" stroke-width="2.2"/>
<path d="M1750 1047L1743.4 1031.3L1750 1031.3L1756.6 1031.3Z" fill="#000"/>
<text transform="translate(1262.6 1147.25) scale(0.96 1)" x="-38.51" y="0" font-size="21.63" letter-spacing="-0.3"><tspan font-style="italic">p</tspan>=0.276</text>
<text transform="translate(1451.5 1147.25) scale(0.96 1)" x="-38.51" y="0" font-size="21.63" letter-spacing="-0.3"><tspan font-style="italic">p</tspan>=0.344</text>
<text transform="translate(1636.3 1199.15) scale(0.96 1)" x="-38.51" y="0" font-size="21.63" letter-spacing="-0.3"><tspan font-style="italic">p</tspan>=0.388</text>
<text transform="translate(1828.5 1022.95) scale(0.96 1)" x="-38.51" y="0" font-size="21.63" letter-spacing="-0.3"><tspan font-style="italic">p</tspan>=0.001</text>
<line x1="1199.5" y1="1219.2" x2="1225.5" y2="1219.2" stroke="#0433FF" stroke-width="3"/>
<circle cx="1212.5" cy="1219.2" r="9.5" fill="#0433FF"/>
<text transform="translate(1239.2 1226.43) scale(0.96 1)" x="0" y="0" font-size="21.01" letter-spacing="-0.07">Zn(DTSM) bolus (n=6)</text>
<line x1="1199.5" y1="1256" x2="1225.5" y2="1256" stroke="#000" stroke-width="3.1" stroke-dasharray="4.5 17 4.5"/>
<circle cx="1212.5" cy="1256" r="8.1" fill="#fff" stroke="#000" stroke-width="2.6"/>
<text transform="translate(1237.6 1263.23) scale(0.96 1)" x="0" y="0" font-size="21.01" letter-spacing="-0.15">DMSO equivalent bolus (n=5)</text>
</g>
</svg>
</body></html>
